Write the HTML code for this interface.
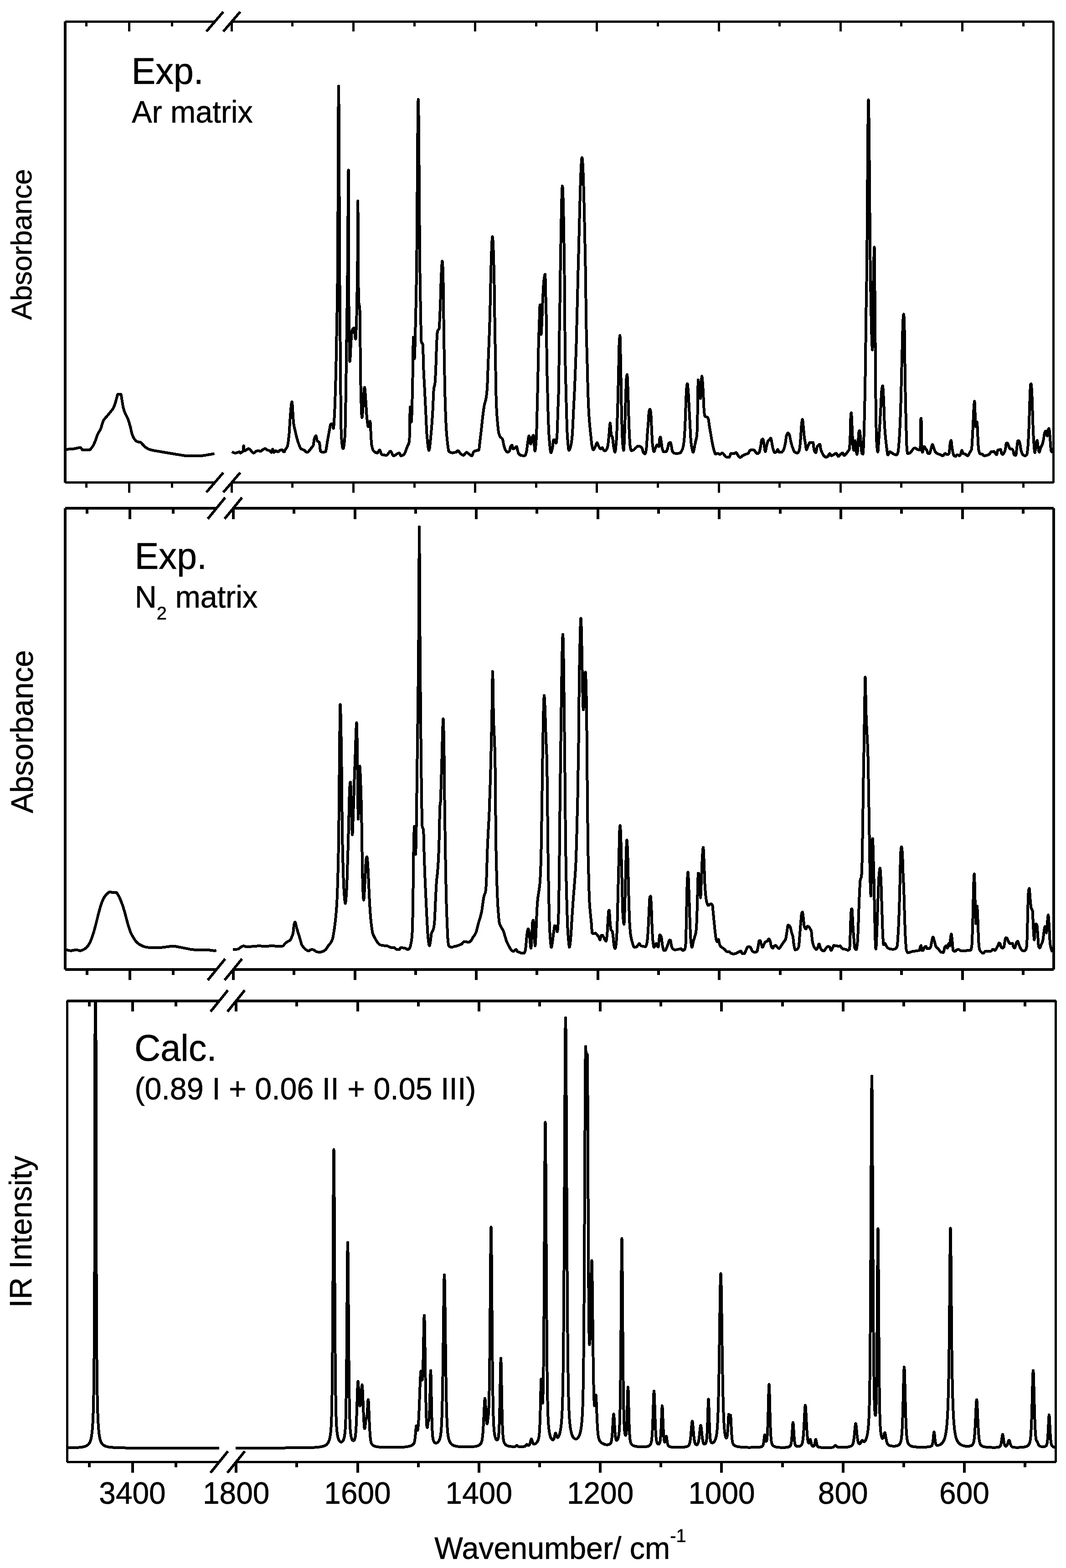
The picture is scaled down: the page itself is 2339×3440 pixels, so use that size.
<!DOCTYPE html>
<html lang="en"><head><meta charset="utf-8"><title>IR spectra</title>
<style>
html,body{margin:0;padding:0;background:#fff}
body{width:2339px;height:3440px;overflow:hidden}
svg{display:block}
text{font-family:"Liberation Sans",sans-serif;fill:#000;stroke:#000;stroke-width:0.6px}
.c{fill:none;stroke:#000;stroke-width:6;shape-rendering:crispEdges;stroke-linejoin:round;stroke-linecap:butt}
.b{stroke:#000;stroke-width:5.8;shape-rendering:crispEdges;stroke-linecap:butt}
</style></head>
<body>
<svg width="2339" height="3440" viewBox="0 0 2339 3440">
<rect x="0" y="0" width="2339" height="3440" fill="#fff"/>
<g id="panel1" shape-rendering="crispEdges">
<rect x="143" y="45" width="328.4" height="5"/>
<rect x="508.5" y="45" width="1803.5" height="5"/>
<rect x="143" y="1056" width="328.4" height="5"/>
<rect x="508.5" y="1056" width="1803.5" height="5"/>
<rect x="140" y="47" width="6" height="1012"/>
<rect x="2309" y="47" width="5" height="1012"/>
<rect x="187" y="49" width="5" height="9"/>
<rect x="187" y="1060" width="5" height="10"/>
<rect x="281" y="49" width="5" height="20"/>
<rect x="281" y="1060" width="5" height="21"/>
<rect x="375" y="49" width="5" height="9"/>
<rect x="375" y="1060" width="5" height="10"/>
<rect x="506" y="49" width="5" height="20"/>
<rect x="506" y="1060" width="5" height="21"/>
<rect x="639" y="49" width="5" height="9"/>
<rect x="639" y="1060" width="5" height="10"/>
<rect x="773" y="49" width="5" height="20"/>
<rect x="773" y="1060" width="5" height="21"/>
<rect x="907" y="49" width="5" height="9"/>
<rect x="907" y="1060" width="5" height="10"/>
<rect x="1040" y="49" width="5" height="20"/>
<rect x="1040" y="1060" width="5" height="21"/>
<rect x="1174" y="49" width="5" height="9"/>
<rect x="1174" y="1060" width="5" height="10"/>
<rect x="1307" y="49" width="5" height="20"/>
<rect x="1307" y="1060" width="5" height="21"/>
<rect x="1441" y="49" width="5" height="9"/>
<rect x="1441" y="1060" width="5" height="10"/>
<rect x="1575" y="49" width="5" height="20"/>
<rect x="1575" y="1060" width="5" height="21"/>
<rect x="1708" y="49" width="5" height="9"/>
<rect x="1708" y="1060" width="5" height="10"/>
<rect x="1842" y="49" width="5" height="20"/>
<rect x="1842" y="1060" width="5" height="21"/>
<rect x="1975" y="49" width="5" height="9"/>
<rect x="1975" y="1060" width="5" height="10"/>
<rect x="2109" y="49" width="5" height="20"/>
<rect x="2109" y="1060" width="5" height="21"/>
<rect x="2243" y="49" width="5" height="9"/>
<rect x="2243" y="1060" width="5" height="10"/>
</g>
<line class="b" x1="452.9" y1="69.1" x2="489.9" y2="25.9"/>
<line class="b" x1="490.0" y1="69.1" x2="527.0" y2="25.9"/>
<line class="b" x1="452.9" y1="1080.1" x2="489.9" y2="1036.9"/>
<line class="b" x1="490.0" y1="1080.1" x2="527.0" y2="1036.9"/>
<g id="panel2" shape-rendering="crispEdges">
<rect x="143" y="1112" width="332" height="6"/>
<rect x="511.9" y="1112" width="1800.1" height="6"/>
<rect x="143" y="2124" width="332" height="6"/>
<rect x="511.9" y="2124" width="1800.1" height="6"/>
<rect x="140" y="1115" width="6" height="1012"/>
<rect x="2309" y="1115" width="6" height="1012"/>
<rect x="188" y="1117" width="6" height="10"/>
<rect x="188" y="2129" width="6" height="10"/>
<rect x="282" y="1117" width="6" height="21.5"/>
<rect x="282" y="2129" width="6" height="21"/>
<rect x="377" y="1117" width="6" height="10"/>
<rect x="377" y="2129" width="6" height="10"/>
<rect x="509" y="1117" width="6" height="21.5"/>
<rect x="509" y="2129" width="6" height="21"/>
<rect x="642" y="1117" width="6" height="10"/>
<rect x="642" y="2129" width="6" height="10"/>
<rect x="776" y="1117" width="6" height="21.5"/>
<rect x="776" y="2129" width="6" height="21"/>
<rect x="909" y="1117" width="6" height="10"/>
<rect x="909" y="2129" width="6" height="10"/>
<rect x="1042" y="1117" width="6" height="21.5"/>
<rect x="1042" y="2129" width="6" height="21"/>
<rect x="1175" y="1117" width="6" height="10"/>
<rect x="1175" y="2129" width="6" height="10"/>
<rect x="1309" y="1117" width="6" height="21.5"/>
<rect x="1309" y="2129" width="6" height="21"/>
<rect x="1442" y="1117" width="6" height="10"/>
<rect x="1442" y="2129" width="6" height="10"/>
<rect x="1575" y="1117" width="6" height="21.5"/>
<rect x="1575" y="2129" width="6" height="21"/>
<rect x="1709" y="1117" width="6" height="10"/>
<rect x="1709" y="2129" width="6" height="10"/>
<rect x="1842" y="1117" width="6" height="21.5"/>
<rect x="1842" y="2129" width="6" height="21"/>
<rect x="1975" y="1117" width="6" height="10"/>
<rect x="1975" y="2129" width="6" height="10"/>
<rect x="2109" y="1117" width="6" height="21.5"/>
<rect x="2109" y="2129" width="6" height="21"/>
<rect x="2242" y="1117" width="6" height="10"/>
<rect x="2242" y="2129" width="6" height="10"/>
</g>
<line class="b" x1="455.9" y1="1138.4" x2="494.1" y2="1091.6"/>
<line class="b" x1="492.8" y1="1138.4" x2="531.0" y2="1091.6"/>
<line class="b" x1="455.9" y1="2150.4" x2="494.1" y2="2103.6"/>
<line class="b" x1="492.8" y1="2150.4" x2="531.0" y2="2103.6"/>
<g id="panel3" shape-rendering="crispEdges">
<rect x="147" y="2193" width="334" height="6"/>
<rect x="518" y="2193" width="1799" height="6"/>
<rect x="147" y="3205" width="334" height="5"/>
<rect x="518" y="3205" width="1799" height="5"/>
<rect x="145" y="2195" width="5" height="1013"/>
<rect x="2314" y="2195" width="5" height="1013"/>
<rect x="193" y="2198" width="6" height="10"/>
<rect x="193" y="3209" width="6" height="10"/>
<rect x="288" y="2198" width="6" height="21"/>
<rect x="288" y="3209" width="6" height="22"/>
<rect x="383" y="2198" width="6" height="10"/>
<rect x="383" y="3209" width="6" height="10"/>
<rect x="515" y="2198" width="6" height="21"/>
<rect x="515" y="3209" width="6" height="22"/>
<rect x="648" y="2198" width="6" height="10"/>
<rect x="648" y="3209" width="6" height="10"/>
<rect x="782" y="2198" width="6" height="21"/>
<rect x="782" y="3209" width="6" height="22"/>
<rect x="915" y="2198" width="6" height="10"/>
<rect x="915" y="3209" width="6" height="10"/>
<rect x="1048" y="2198" width="6" height="21"/>
<rect x="1048" y="3209" width="6" height="22"/>
<rect x="1181" y="2198" width="6" height="10"/>
<rect x="1181" y="3209" width="6" height="10"/>
<rect x="1314" y="2198" width="6" height="21"/>
<rect x="1314" y="3209" width="6" height="22"/>
<rect x="1447" y="2198" width="6" height="10"/>
<rect x="1447" y="3209" width="6" height="10"/>
<rect x="1580" y="2198" width="6" height="21"/>
<rect x="1580" y="3209" width="6" height="22"/>
<rect x="1714" y="2198" width="6" height="10"/>
<rect x="1714" y="3209" width="6" height="10"/>
<rect x="1847" y="2198" width="6" height="21"/>
<rect x="1847" y="3209" width="6" height="22"/>
<rect x="1980" y="2198" width="6" height="10"/>
<rect x="1980" y="3209" width="6" height="10"/>
<rect x="2113" y="2198" width="6" height="21"/>
<rect x="2113" y="3209" width="6" height="22"/>
<rect x="2246" y="2198" width="6" height="10"/>
<rect x="2246" y="3209" width="6" height="10"/>
</g>
<line class="b" x1="461.9" y1="2219.6" x2="500.1" y2="2172.4"/>
<line class="b" x1="498.9" y1="2219.6" x2="537.1" y2="2172.4"/>
<line class="b" x1="461.9" y1="3231.1" x2="500.1" y2="3183.9"/>
<line class="b" x1="498.9" y1="3231.1" x2="537.1" y2="3183.9"/>
<defs><clipPath id="cp1"><rect x="146" y="47" width="2163" height="1009"/></clipPath><clipPath id="cp2"><rect x="146" y="1115" width="2163" height="1009"/></clipPath><clipPath id="cp3"><rect x="150" y="2196" width="2164" height="1009"/></clipPath></defs>
<path class="c" clip-path="url(#cp1)" d="M145.6 985.7L160.1 985L174.6 982L176.6 981.9L177.6 982.7L180.1 986.5L181.1 987.3L194.1 987.3L196.6 987L198.6 985.5L201.6 981.8L204.1 978.2L206.1 974.3L208.6 968.6L210.6 963L213.1 955.7L214.6 952.1L216.6 948.5L219.6 943.7L221.1 940.5L222.6 936L225.1 927.5L226.1 924.5L227.1 922.3L229.1 919.4L235.6 912.1L243.1 902.9L246.6 898.7L248.6 895.3L250.6 890.8L252.6 885.4L254.1 880.2L256.1 872.9L257.1 868.7L257.6 866.9L258.1 865.5L258.7 864.8L264.6 864.8L265.1 864.8L265.6 865.8L266.1 867.9L266.6 870.8L267.6 877.5L269.6 889.7L270.1 892.5L270.6 894.7L272.1 900L273.6 904.2L275.6 909L279.6 916.4L281.1 919.9L282.6 924.3L285.6 935.1L287.1 941.2L289.1 949.8L290.1 953.3L291.6 957.1L293.6 961.2L295.6 964.2L298.1 967L300.1 968.4L304.1 969.8L308.6 970.4L310.1 971.6L313.1 975.2L318.1 980.4L323.6 984.2L327.6 986L336.2 988.2L377.6 995.2L406.1 999.8L418.1 999.7L432.6 999.6L442.6 999.9L451.6 998.6L470.6 995.2"/>
<path class="c" clip-path="url(#cp1)" d="M509 990.9L512 992.9L515 993.8L517.5 993.8L523 991.9L525 991.4L525.5 991.7L527 993.7L527.5 993.9L529 993.3L532.5 990.5L533.3 989.4L533.5 988.3L534 982.5L534.5 978L534.6 977.9L535 980.1L535.5 985.2L536 988.8L538 988.8L539.5 987.9L543 985.2L545 984.3L546.5 984.6L549.5 986.8L552.5 991.1L555.5 993.6L557 993.9L558.5 992.9L561 990.5L565 989.1L567.5 988.9L571.5 990.1L573 989.7L576.5 986.5L580.5 984.5L582.5 984.4L584.5 985.8L586.5 987.4L592 988.9L593 989.7L595 992.2L595.8 992.7L596 992.6L596.5 991.4L597.5 987.5L598 985.9L598.4 985.5L598.5 985.6L599 986.7L600 990.6L600.5 992.2L601 992.6L602 991.9L604 989.2L604.7 988.9L606 989.3L609 991.2L610 991.4L611.5 990.5L614 988L616.5 987.1L618.6 986.8L619 987L620 988.4L621.1 990.1L623 991.3L623.7 991.4L624 991.1L624.5 989.8L625.3 987.3L626.5 985.5L629 982.5L630 980.7L630.5 979.5L631 977.7L631.5 975.3L632 972.3L632.5 968.9L633 965L634 956.2L634.2 954.4L634.5 951L635 943.7L636 926.8L636.5 919.2L638 900.7L638.5 894.8L639 889.5L639.5 885.3L640 882.5L640.5 881.5L641 883.2L641.5 888.1L642 895.2L643 912L643.5 920L644 926.4L644.3 929.1L645 933.3L646 938.1L650 955.6L651.5 961.5L653.2 967.1L656.5 976.9L658 980.6L659.5 983.4L660.8 984.8L663.5 986.1L667.1 987.3L669 988.9L672 991.9L673.5 992.4L675 992L677 990.5L680 986.9L684 981.8L686 979.6L687.3 977.2L687.5 976.8L688 974.3L689 966.9L689.5 963.6L690 961.7L691.5 958L692.5 956.5L693.2 956.2L693.5 956.5L694 957.9L695.5 965L696 966.7L697 968L700 969.9L700.8 970.9L701 971.6L701.5 975.2L702.5 985.3L703 989L703.3 989.9L705.5 991.5L708 992.3L711 992.2L714 991.1L714.5 990.3L715 988.7L715.5 986.5L716 983.8L717 977.4L718.5 967.4L722 948.3L723 943.2L724.5 934.5L725 932.1L725.5 930.7L726 930.4L729.6 930.4L730 931.2L730.5 934.2L731 937.7L731.5 939.9L731.6 940L732 939L732.5 934.3L733 926.7L733.5 917.4L734.2 903.7L734.5 897.2L735 884.8L735.5 870.2L736 853.9L736.5 836L736.7 827.8L737 816.5L737.5 793.4L738 767.5L738.7 726.8L739 712.8L739.5 686.7L740 658.2L740.5 623.1L740.8 600L741 570.7L741.5 466.7L742 341.1L742.5 234.9L743 189L743 189L743.5 224.7L744 315.3L744.5 431.3L745 543.3L745.3 600.5L745.5 623.9L746 685.6L746.3 726.7L746.5 747.5L747 814.6L747.3 853L747.5 866.4L748 909.1L748.5 942L748.9 954.4L749.5 963.6L750 969.6L750.5 974.7L751 978.6L751.5 981.5L752 983.4L752.5 984.3L753 984.2L753.5 983.2L754 981.3L754.5 978.7L755 975.3L755.5 971.1L756 966.1L756.5 960.5L757 954L757.5 939.5L758 914.5L758.5 884L759 853L759.5 820.5L760 783.9L760.5 746.3L760.8 726.5L761 710.5L761.5 677L762 642.5L762.5 603.6L762.5 600.1L763 547.6L763.5 475.2L764 409.7L764.5 374.4L764.6 373L765 573.3L765.1 599.3L765.5 669.6L765.8 701L766 714.4L766.5 751.1L767 779.2L767.5 792.7L767.6 793.2L768 791.2L768.5 784.2L769 774.3L769.5 763.4L770 754L771 738.7L771.5 731.8L772 727.3L772.1 726.6L773.5 722.9L774.5 721L775.5 719.8L776.5 719.5L777 720.8L777.5 723.9L778 728.2L779 737.5L779.5 741.3L780 743.5L780.2 743.8L780.5 743L781 736.3L781.5 724.7L782 710.2L782.3 701.2L782.5 693.2L783 666.9L783.3 650.7L783.5 641.5L784 619.6L784.3 600.3L784.5 576L785 472.5L785.3 441L785.5 462L786 588.8L786.1 600.3L786.5 630.6L787 655.1L787.3 663.3L787.5 664.9L788 668.1L788.5 669.8L789 672.3L789.4 676L789.5 679.2L790 716.6L790.4 751.9L790.5 760.8L791 806.3L791.5 845.4L791.6 853.3L792 866.7L792.5 884.6L793 899.4L793.5 910.1L794 915.5L794.2 916L794.5 915.4L795 912.5L795.5 907.4L796 900.7L796.5 893L797.5 876.1L798 868L798.5 860.9L799 855.1L799.5 851.3L800 849.8L800.5 851.7L801 856.5L801.5 863.3L802 870.8L803 885.1L804 901.9L804.5 909.6L805 915.8L806 925L806.5 929.1L807 932.6L807.5 935.1L808 936.2L808.5 935.9L809 934.8L809.5 933.1L811 926.9L811.5 925.4L812.1 924.5L812.5 926.5L813 934.8L813.5 945.9L813.9 954.4L814.5 965L815 972.9L815.2 974.7L816 978.9L817 983.1L818 986.1L819 988.3L820.2 989.9L823.5 992.3L826.5 993.5L828 993.7L829 992.9L831.5 988.6L832.5 987.5L833 987.3L833.5 987.7L834 988.5L835 990.9L836.5 995.2L837 996.3L837.5 997.1L838.5 997.6L845 998.6L848.5 998.7L850 997.7L852 995.1L854.5 991.6L856 990.2L857 989.9L857.5 990.1L858.5 991.4L860 994.6L861.5 998L862.5 999.6L863.3 1000L865.5 999.5L869 997.3L873 994.5L875.5 993.7L876 993.7L876.5 994L877.5 996L878.5 998.4L879 999.3L879.8 1000L882.5 999.4L886.1 997.5L887 996.5L888.5 993.8L890 990.1L893.7 979.7L895 977.1L896 975.3L896.5 974.1L897 972.7L897.5 970.8L898.2 967.1L898.5 961.6L899 936.2L899.5 907.2L900 892.9L900.5 896.1L901 904.1L901.5 913.9L902 922.2L902.5 926.1L902.5 926.1L903 922.4L903.5 911.4L904 895.1L904.5 875.9L905.1 853.3L905.5 829.9L906 793.1L906.5 758.8L907 740.3L907.1 739.7L907.5 743.6L908 756L908.5 771.3L909 783.4L909.4 786.9L909.5 786.5L910 778.6L910.5 762.5L911 741.6L911.5 718.9L911.9 701.2L912.5 676.3L913 652.9L913.5 626.3L913.9 600.3L914 595.5L914.5 550.4L915 490.3L915.5 422.7L916 354.7L916.5 293.5L917 246.4L917.5 220.7L917.7 218L918 222.8L918.5 250.9L919 298.5L919.5 359L920.5 492.2L921 551.8L921.5 597.9L921.5 600.1L922 631.6L922.5 660.7L923 686.5L923.5 713.4L924 736.5L924.5 748.9L924.6 749.4L925 751L925.5 752.2L927 754.1L927.5 755.5L927.9 757L928 758.7L928.5 776.7L929 798.7L929.1 802.4L929.5 811.8L930 822.5L930.5 831.9L931.5 850.1L934.2 903.9L934.5 910.3L935.5 932.9L936 943.3L936.5 951.6L936.7 954.4L937.5 963.1L938 968.4L938.5 973.3L939 977.7L939.5 981.5L940 984.6L940.5 986.8L941 988L941.3 988.1L941.5 988L942 986.6L942.5 984L943 980.4L943.5 975.9L944 971L946 950.1L946.5 944.4L947 938.3L947.5 931.8L948 924.9L948.5 917.5L949.4 903.8L949.5 901.7L950 891.3L951 867.6L951.5 858.1L951.9 853.2L952.5 849.5L953.5 845.7L954 843.4L954.5 840L955 833.6L955.5 824.3L956 813.2L956.5 801.7L957 787.7L957.5 771.6L958 757.2L958.2 751.9L959 737.7L959.5 730.5L960 726.6L960.5 725.4L961.5 724.1L962.5 723.2L963 722.3L963.3 721.5L963.5 720.5L964 715.1L964.5 706.3L965 695.4L966 671.9L966.5 657.1L967.5 622.9L968 608.1L968.4 600.1L969 588.3L969.5 580.2L970 574.6L970.4 573L970.5 573.1L971 576.5L971.5 584.4L972 595.7L972.1 599.9L972.5 618.5L973 662.2L973.2 675.6L973.5 699L974 733.6L974.5 765.7L974.7 777L975 794.8L975.5 822.9L976 848.6L976.5 870.5L976.7 878.5L977 887.7L977.5 902.9L978 916.4L978.5 928L979 937.7L979.2 941.8L979.5 945.5L980 952.2L980.5 958.2L981 963.5L981.5 968.2L982.3 974.7L983.5 984L984 987.1L984.5 989.2L985 990.1L987.5 992.2L990 993.3L993 993.6L998.7 992.4L1000.5 992.3L1002 991.1L1004 989L1005.1 988.6L1006 989.1L1007.5 991.1L1009.5 994.3L1013.5 997.6L1015.5 998.6L1017 998.6L1018.5 997.6L1022.5 993.1L1024 992.4L1025.5 993L1029.5 996.5L1033.5 999.4L1035.5 1000L1036 999.6L1036.5 998.5L1038.5 992.5L1039.2 991.1L1042 989.4L1046 988.3L1050 987.6L1050.6 987.3L1051 986.5L1051.5 983.3L1052 978.7L1053 968.6L1055.5 947.9L1056.5 939.2L1058.5 920.1L1059 915.6L1060 907.5L1061 899.9L1062 893.1L1062.8 888.6L1063.5 885.5L1065.5 878.6L1066 876.4L1066.5 873.8L1067 870.7L1067.5 867.1L1068 862.8L1068.5 857.7L1068.9 853.2L1069 851.3L1069.5 841L1070 827.6L1070.5 813.2L1070.9 802.4L1072 775.4L1072.5 762.9L1073.5 736.5L1074 722.7L1074.5 707.6L1074.7 701.4L1075 690.4L1075.5 670.5L1076 648.8L1076.5 622L1077 600.1L1077.5 582.2L1078 566L1078.5 551.1L1079 538.2L1079.5 528.1L1080 521.4L1080.5 519L1081 521.1L1081.5 527.1L1082 536.6L1082.5 549L1083 563.7L1083.5 580.1L1084 600L1084.5 623L1085.5 696.2L1085.6 701.3L1086 726L1087 781.5L1087.3 802.4L1087.5 812.6L1088 847.7L1088.1 853.1L1088.5 868.2L1089 884L1089.5 896.3L1089.9 903.7L1090 905.8L1090.5 913.3L1091 919.5L1093 940.5L1093.5 945L1094 948.5L1094.5 950.6L1095.5 954L1096.5 956.5L1098 958.9L1100 960.6L1101.5 961.8L1102.5 963.3L1103 964.6L1103.5 966.7L1104.5 972L1105.1 974.7L1107 982.3L1108 985.5L1108.9 987.3L1111 990.1L1112.5 991.4L1114 991.9L1116 991.3L1117.7 989.9L1118 989.4L1118.5 987.6L1119.5 982.4L1120 980.4L1120.5 979.3L1122 977.2L1123 976.5L1123.5 976.6L1124 978L1125 982.7L1125.5 984.4L1126 984.8L1128 984.1L1130 982.9L1132.5 980.3L1133.7 979.7L1134 980.2L1134.5 982.4L1135 985.2L1135.5 987.5L1137 992.8L1137.5 994.1L1138.5 995.6L1141 998.1L1143 999.3L1146 999.5L1152 999.5L1152.5 999.1L1153 998.3L1154 995.6L1155 992.2L1155.5 989.6L1156 986.1L1157 978.1L1158 971.1L1159 963.7L1159.5 960.4L1160 957.9L1160.5 956.4L1160.8 956.2L1161 956.4L1161.5 957.9L1162 960.6L1163 967.5L1163.5 970.7L1164 973.1L1164.6 974.2L1165 973.5L1165.5 971.4L1166 968.4L1167 962L1167.6 959.5L1169 956.3L1169.5 955.5L1170.4 954.9L1170.5 955L1171 958L1171.5 964L1172.5 979.3L1173 985.6L1173.5 989.1L1173.7 989.4L1174 989L1174.5 986.9L1175 983.2L1175.5 978.2L1176 972.1L1176.7 962L1177 956.5L1177.5 941.6L1178 922.8L1178.5 903.5L1179 883.8L1179.5 862.5L1180 840L1180.2 828L1180.5 816.2L1181 789.3L1181.5 763.7L1181.8 752L1182 744.3L1182.5 729.1L1183 715.7L1183.5 701.4L1184 687L1184.5 672.4L1184.8 668.8L1185 669.8L1185.5 680.3L1186 698L1186.5 716.6L1187 730.3L1187.3 733.7L1187.5 733.2L1188 726.5L1188.6 713.9L1189 705.8L1189.5 693L1190 679L1190.5 665.4L1191 653.6L1191.5 644.1L1192 634.9L1192.5 626.6L1193 619.4L1193.5 614.1L1194 610.5L1194.5 607.2L1195 604.5L1195.5 602.7L1196 602L1196.5 610.7L1197 630.6L1197.5 651.4L1198 669.2L1198.5 689.2L1198.7 701L1199 718.5L1199.5 763.3L1200 802L1200.5 824.6L1201 842.8L1201.3 853.3L1201.5 862.4L1202 883.7L1202.5 902.5L1203 917.9L1203.5 932.1L1204 944.2L1204.5 953.5L1205.5 967.1L1206 973.4L1206.5 979.1L1207 984L1207.5 988.1L1208 991.1L1208.5 992.8L1209 993.2L1209.5 992.7L1210 991.5L1210.5 989.9L1211.5 985.6L1212.7 979.7L1213 977.5L1214 967.9L1214.5 964.9L1214.7 964.6L1218.2 964.6L1218.5 964.9L1219 967L1219.5 969.7L1220 971.8L1220.2 972.2L1220.5 971.8L1221 969.1L1221.5 964.4L1222 958.3L1222.3 954.4L1222.5 950.8L1223 937.9L1224 905.6L1224 903.8L1224.5 892.4L1225 880.4L1225.5 865.9L1225.8 853.3L1226 844.2L1226.5 803.4L1227 759.1L1227.1 751.8L1227.5 726.8L1228 698.5L1228.3 676.2L1228.5 666.3L1229 626.3L1229.4 599.8L1230.5 535L1231 506.9L1231.5 480.6L1232 457L1232.5 437L1233 421.6L1233.5 411.6L1234 408L1234.5 410.9L1235 419.4L1235.5 433.2L1236 451.7L1236.5 474.6L1237 501.4L1237.5 531.6L1238 564.8L1238.5 600.7L1239 668.1L1239.2 701.2L1239.5 725.8L1240 768.8L1240.5 801.7L1240.5 802.7L1241 824.3L1241.5 842.5L1241.8 853.1L1242.5 883L1243 902.2L1243.5 919.1L1244 935.2L1244.5 948.4L1244.8 954.4L1245.5 964.4L1246 971.1L1246.5 977L1247 981.9L1247.5 985.5L1248 987.7L1248.5 988.1L1249 987.8L1249.5 987.1L1250.5 984.8L1251.5 981.5L1253.2 974.7L1253.5 973.1L1254 970.1L1254.5 966.3L1255 961.9L1255.7 954.4L1256 950.5L1256.5 941.8L1257 931.2L1258 908.7L1258.5 898.6L1260 869.4L1260.5 859.1L1261 847.9L1261.5 836L1262 823.4L1263 797.1L1263.5 783.7L1264 769.7L1264.6 751.8L1265 735.8L1265.8 701.4L1267.1 650.6L1268 613.7L1268.3 600.2L1269 576.9L1269.5 557.8L1270.5 518.5L1271.5 479.2L1272 460L1272.5 441.6L1273 424.1L1273.5 407.8L1274 392.9L1274.5 379.6L1275 368.2L1275.5 358.9L1276 351.9L1276.5 347.6L1277 346L1277.5 347.4L1278 351.6L1278.5 358.4L1279 367.6L1279.5 379.2L1280 392.8L1280.5 408.4L1281 425.8L1281.5 444.8L1282 465.3L1282.5 487.1L1283 509.9L1283.5 533.8L1284 558.4L1284.5 583.6L1284.8 600L1285 611.2L1285.5 654.4L1286 696.1L1286.1 701.5L1286.5 722.3L1287 743.6L1287.5 762.1L1288 779.6L1288.5 797.9L1288.6 802.6L1289.5 839.4L1289.9 853.1L1290 856.8L1290.5 871.4L1291 884.4L1291.5 895.8L1292 905.4L1292.5 913.6L1293 920.6L1293.7 929.1L1294 932.8L1294.5 938.2L1295.5 947.9L1296.5 957.1L1297.5 966.8L1298 971.4L1298.5 975.4L1299 978.6L1300 982.8L1300.5 984.6L1301 985.9L1301.5 986.7L1302 986.8L1303 986.1L1304.5 983.5L1307 978.2L1308.5 973.9L1309 972.7L1309.5 971.8L1310.1 971.4L1310.5 971.5L1311 972.2L1312 974.7L1313.5 978.9L1316 983.3L1317 984.5L1318 984.8L1319.5 983.7L1321 982.4L1321.5 982.3L1322 982.5L1322.5 983.3L1324.5 987.7L1325 988.4L1327.8 988.9L1329 988.4L1330.5 986.7L1332 984.1L1332.5 982.6L1333 980.7L1333.5 978.4L1334.2 974.7L1334.5 972.5L1335 967.8L1336.5 951.2L1337.5 937.9L1338 932.2L1338.5 928.8L1338.7 928.3L1339 929L1339.5 933.4L1340 940.2L1340.5 947.3L1341 952.8L1341.3 954.4L1342 956.2L1343 957.7L1343.5 958.6L1343.8 959.5L1344 960.3L1344.5 963.6L1345 968.2L1345.5 973.1L1346 977.5L1346.5 980.6L1347.5 986.1L1348 988.5L1348.5 990.4L1349 991.6L1349.5 991.9L1350 990.5L1350.5 987.5L1351 983.3L1351.5 978.1L1352 972.2L1352.5 966L1353 957.3L1353.5 945.8L1354 932.2L1354.5 917.4L1355 902.2L1355.5 885.5L1356 866.7L1357 826.7L1357.5 803.1L1358 777.7L1358.5 757.7L1358.7 752L1359 747.7L1359.5 740.8L1360 736.6L1360.2 735.9L1360.5 737.9L1361 752.8L1361.5 776.1L1362 802.7L1362.5 827.6L1363 859.2L1363.5 889.2L1363.8 903.9L1364 911.6L1364.5 931L1365 948.1L1365.5 961.3L1365.8 967.1L1366.5 975.6L1367 980.9L1367.5 985.1L1368 987.6L1368.3 988.1L1368.5 987.9L1369 983.8L1369.5 975.5L1370 964.3L1371 939L1371.5 922.3L1372 902.5L1372.5 883.8L1373.5 852.8L1374 839.2L1374.5 829.8L1374.7 827.9L1375 825.7L1375.5 823L1376 822L1376.5 826.3L1377 835.8L1377.7 853.1L1378 860.4L1378.5 877.4L1379 895.5L1379.2 903.8L1380 927.5L1380.5 942.2L1381 954.4L1381.5 963.2L1382 971.3L1382.5 977.4L1382.8 979.7L1383.5 983.7L1384 986L1384.5 987.7L1385 988.7L1386 988.8L1389 987.8L1391 986.5L1395 982.2L1399.5 978.7L1401 978.5L1405.1 979.7L1407 981.1L1408.9 983.5L1409.5 985.3L1410.5 989.6L1411 991.5L1411.5 992.5L1413.5 994.9L1415 995.7L1415.5 995.6L1416 994.8L1416.5 993.4L1417 991.4L1417.5 989L1418.2 984.8L1418.5 982.6L1419 975.8L1420 958.4L1420.2 954.5L1421 945L1422 932.9L1422.3 929.1L1422.5 926L1423 917.7L1423.5 909.6L1424 904.2L1424.5 901.6L1425 899.5L1425.5 898.2L1426 898L1426.5 898.7L1427 900.1L1427.5 902.1L1427.8 903.8L1428 904.8L1428.5 911.7L1429 922.2L1429.5 933.8L1430 944L1431 965.2L1431.5 973.1L1431.7 974.7L1432.5 981.1L1433 984.4L1433.5 987L1434 989.1L1434.5 990.3L1435 990.7L1435.5 990.3L1436 989.4L1437 986.5L1438 983.5L1440.5 977.4L1441 976.6L1441.8 975.9L1442.5 976.3L1445 979.5L1445.6 979.7L1446 978L1446.5 973L1447 967L1447.5 962.5L1448 960.5L1448.5 959.1L1448.9 958.7L1449 958.8L1449.5 960.3L1450 963.1L1451 969.4L1452.5 981.3L1453 984.1L1454 987.4L1455 989.9L1455.5 990.7L1456.2 991.1L1461.5 991.1L1462 990.7L1463 988.9L1464.6 984.8L1465 983.4L1466 978.8L1466.5 976.4L1467 974.2L1467.5 972.7L1468 972L1470 971L1471 970.9L1471.5 971.6L1472 973.3L1473.5 980.1L1474 983.2L1474.5 986.6L1475 989.3L1475.5 990.4L1477 992.6L1478.5 994L1480.5 994.5L1487 994.9L1491.5 994L1493 993.3L1494.5 991.6L1496.5 987.8L1497.5 985.4L1498.5 982L1499.5 977.5L1500 974.7L1500.5 971.3L1501 966.8L1501.5 961.3L1502 954.4L1502.5 946.8L1503 936.2L1503.5 924.2L1503.8 916.4L1504 911.2L1504.5 895.3L1505 880.3L1505.5 868.3L1506 857.9L1506.3 853.2L1507 846.9L1507.5 843.3L1508 841.5L1508.1 841.5L1508.5 842.4L1509 845.8L1509.5 850.9L1510.1 858.3L1510.5 863.4L1511 872.6L1511.5 883L1512 892.8L1514 930.4L1514.5 940.7L1515 951.3L1515.5 960.8L1516 967.5L1516.5 972.3L1517 976.3L1517.5 979.7L1518 982.5L1519 987L1519.5 989L1520 990.8L1520.5 992L1521 992.4L1521.5 991.9L1522 990.3L1522.5 988L1524 979.7L1526 970.1L1526.6 967.1L1527 965.3L1528 961.5L1528.5 959.1L1529 955.5L1529.1 954.5L1529.5 948L1530 932.2L1530.4 916.4L1530.5 910.8L1531 874.9L1531.1 865.8L1531.5 846.2L1531.9 833.4L1532 833.5L1532.5 836.2L1533 841.8L1533.5 848.3L1534 854.1L1535.5 866.3L1536 869.8L1536.5 872.6L1537 874L1537.2 874.2L1537.5 871.9L1538 859.8L1538.5 845.5L1538.7 840.6L1539 836.4L1539.5 828.8L1540 825.3L1540.5 827L1541 831.4L1541.8 840.5L1542 843.4L1542.5 851.7L1543 861.8L1543.5 872.3L1544 882.6L1544.5 894.4L1545 903.1L1545.5 906.9L1546 909.9L1546.5 912.1L1547 913.5L1547.5 914L1552 915.2L1552.5 915.7L1553.5 917.6L1554.5 920.5L1555 923.1L1555.5 926.8L1556 930.8L1556.5 934.4L1558 943.3L1560 954.9L1561.5 964.1L1563.5 974.7L1564.5 979.5L1565.5 983.6L1568 992.4L1569 995L1569.5 995.8L1570.1 996.2L1572 995.6L1574 994.5L1575.5 994.6L1579 996.8L1580 996.9L1581.5 996.1L1584 993.9L1585 993.7L1586 994.3L1592 1001.5L1593.5 1002.5L1600 1003L1600.5 1002.7L1601 1001.7L1602.5 997.2L1603 995.9L1603.5 995.1L1606 995.1L1610.5 995.4L1612.5 994.3L1614.5 993L1615.5 993L1616.5 994.1L1618.5 998L1622 1002.6L1623.5 1003.7L1624.5 1003.7L1626 1002.8L1629.1 1000L1635 996.9L1638.5 995.8L1641.8 994.9L1642.5 994.1L1644.5 989.4L1645.1 988.6L1647 987.1L1648.5 986.8L1654.5 987.4L1655.5 988.2L1658 992.1L1660.5 994.7L1662 995.4L1663.5 994.9L1665 993.5L1666 992.1L1666.5 990.8L1667 989L1668 984.2L1669 979.1L1669.5 975.8L1670.5 968.3L1671 965.6L1671.5 964.5L1673 963.4L1674 963.3L1674.5 964.2L1675 966.3L1676.5 974.9L1677 978L1678 985.5L1678.5 988.6L1679 990.4L1679.2 990.7L1679.5 990.5L1680 989.1L1680.5 986.8L1681.5 981L1682 978.4L1684 971L1685 968.1L1685.6 967.1L1687 965.8L1688.6 964.6L1690.5 961.6L1691.1 961.2L1691.5 961.6L1692 963.2L1692.5 965.7L1693.7 972.1L1695.5 981.9L1696.2 984.8L1698 990L1699 992.1L1699.5 992.7L1700.5 992.9L1702.5 992.1L1704 990.9L1704.5 989.9L1705.5 987.2L1706 986.3L1706.5 986.1L1707 986.6L1708 988.6L1709 991L1709.5 991.9L1710.1 992.4L1715.2 991.9L1716.5 991.1L1718 989L1719.5 986.3L1720.5 983.6L1721.5 980L1723 973.7L1723.5 970.7L1725 959.7L1725.5 956.7L1726.1 954.4L1727.5 951.4L1728.5 950.1L1729.1 949.8L1730 950.4L1731 951.9L1732.2 954.4L1732.5 955.4L1733 957.3L1734 962.4L1735 967.6L1736 971.7L1738 978.6L1741 987.2L1742 989.6L1743 991.1L1746 993.1L1748.5 993.9L1750 993.8L1751.5 992.6L1753.2 989.9L1753.5 989L1754 986.9L1754.5 984L1755 980.5L1755.7 974.7L1756 971.6L1756.5 964.6L1757 956.6L1758 941.6L1758.5 934.4L1759 929.1L1759.5 925.4L1760 922.2L1760.5 920.3L1760.8 920L1761 920.3L1761.5 923.3L1762 928.2L1762.8 936.7L1763 938.8L1764 951.2L1764.6 957L1765 960.2L1765.5 963.3L1767.1 972.2L1767.5 974.8L1768.5 982.3L1769 985.3L1769.5 986.8L1770 986.7L1770.5 985.9L1771 984.6L1773 978.2L1775.5 972.8L1776.5 971.3L1777.2 970.9L1783.8 970.9L1784 971.1L1784.5 973.5L1785 977.6L1785.5 982.1L1786 985.9L1786.3 987.3L1787.5 990.1L1788.5 991.9L1789.5 993L1790.1 993.2L1790.5 992.7L1791 990.8L1791.5 988.1L1792.5 982.1L1793 980.1L1794 978.7L1798 975L1799 974.7L1799.5 976.3L1800.5 983.4L1800.8 984.8L1802 988.8L1803.5 992.5L1806 997.4L1807.8 1000L1810 1002.2L1811.5 1003L1814 1002.6L1817 1001L1818 999.3L1819.5 995.9L1820 995.2L1820.5 994.9L1821 995.2L1822 996.7L1823.5 999.4L1824.3 1000L1826 999.5L1831 996.3L1833.5 994.6L1834.5 994.4L1835 994.7L1836 996L1838 999.8L1839 1001.1L1840 1001.2L1841.5 999.9L1844 996.7L1847.5 994.1L1849 993.7L1849.5 994.2L1850.5 996.5L1851.5 998.9L1852.2 999.5L1853.5 998.9L1857.5 994.3L1860 990.8L1862.5 988.2L1863.5 986.2L1863.5 986.1L1864 983.2L1864.5 976.5L1865 967.2L1865.6 954.4L1866 938.4L1866.5 918.3L1866.6 916.5L1867 911.1L1867.5 906.6L1867.8 905.5L1868 905.9L1868.5 911.4L1869 921.6L1869.5 933.4L1870 944.2L1870.5 956.5L1871 969.2L1871.5 978.3L1871.7 979.8L1872 982.1L1872.5 984.9L1873 987L1873.5 988.1L1873.7 988.1L1874 987.2L1874.5 982.9L1875.5 971.1L1876 967.5L1876.2 967.1L1876.5 967.8L1877 971.8L1878 982.9L1878.5 986.6L1879.5 993.6L1880 996L1880.5 997L1881 995.5L1881.5 991.6L1882 986.1L1882.5 979.8L1883 972.3L1883.5 961.6L1884 952.4L1884.3 949.4L1885 946.4L1885.5 945L1885.8 944.8L1886 944.9L1886.5 946.6L1887 949.8L1887.6 954.4L1888 958.8L1889 975L1889.4 979.8L1890 985.9L1890.5 990.4L1891 993.7L1891.5 995.1L1892.5 996.1L1893.5 996.4L1894 992.1L1894.5 983L1895.2 967.1L1895.5 959.3L1896 942.9L1896.5 923.4L1897 902.6L1897.5 880.5L1898 855.7L1898.5 827.3L1899 791.5L1899.5 752.2L1900 713.7L1900.5 675.7L1901 647.1L1901.5 618.7L1901.8 600.2L1902 582.2L1902.5 529.1L1903 464.5L1903.5 395.6L1904 329.5L1904.5 273.3L1905 234.1L1905.5 219L1905.5 219L1906 228.9L1906.5 256.8L1907 298.5L1907.5 349.9L1908 406.9L1908.5 465.3L1909 521L1909.5 569.8L1909.9 599.8L1910 607.9L1910.5 640L1911 668.4L1911.1 676L1911.5 693.2L1912 716L1912.5 734.4L1912.7 739.3L1913 748L1913.5 760L1914 767.2L1914.2 767.9L1914.5 763.8L1915 743.7L1915.5 714.3L1915.7 701L1916 674.5L1916.5 616.7L1916.7 599.9L1917 585.9L1917.5 563.8L1918 548.1L1918.5 542L1919 573.1L1919.2 599.9L1919.5 636.3L1919.8 676.3L1920 701.9L1920.5 750L1920.5 752.3L1921 819.2L1921.3 853.6L1921.5 874.2L1922 913.3L1922.3 929.2L1922.5 938.1L1923 956.4L1923.5 969.6L1923.8 974.7L1924.5 982.7L1925 987.3L1925.5 990.5L1926 991.9L1926.1 991.9L1926.5 990.2L1927 984.4L1928 968.6L1929 954.7L1929.5 947.3L1930 939.6L1930.6 929.2L1931 922.9L1931.5 913.6L1932.7 891.1L1933 884.4L1933.5 873.5L1934 863.8L1934.4 858.2L1935 853.8L1935.5 850.5L1936 848L1936.5 846.7L1936.7 846.5L1937 847.3L1937.5 851.9L1938 859.5L1938.5 868.8L1939 878.5L1939.5 891.4L1940 907.7L1940.5 922.9L1940.8 929.1L1941 933.3L1941.5 941.2L1942 947.9L1942.5 954.4L1943 959.7L1943.5 965L1944 969.9L1946 986.6L1946.5 990.5L1947 993.8L1947.5 996.3L1948 997.9L1948.5 998.2L1949 997.7L1950 995.4L1951 992.7L1951.5 991.7L1952.2 991.1L1954 991.7L1959.5 995.3L1962 996.9L1966.5 997.9L1967.5 998L1968 997.7L1969 996.1L1970 993.6L1970.5 992L1971 989.1L1971.5 984.6L1972 979L1973 966L1973.5 958.4L1974 949.2L1974.5 939L1975 927.9L1975.5 915.4L1976 901.3L1976.5 885.7L1976.7 878.4L1977 868.3L1977.5 848L1978 827.2L1979.2 777.2L1979.5 766.8L1980 745.4L1980.5 726.5L1981 712.2L1981.5 700.1L1981.8 696.2L1982 694.3L1982.5 690.7L1983 689.1L1983.5 693.4L1984 706.2L1984.5 724L1984.6 726.7L1985 754.7L1985.5 796.9L1985.6 802.6L1986 830.2L1986.5 860.4L1986.8 878.7L1987 885.7L1987.5 906.5L1988.1 929.1L1989 963.4L1989.5 977.6L1989.6 979.7L1990 984.7L1990.5 990.3L1991 993.9L1991.4 994.9L1995.5 994.4L1997 993.4L2000.5 989.6L2003.5 984.8L2005.5 983.5L2007.8 982.8L2009.5 983.5L2012.5 985.9L2017 987.3L2018 987.3L2018.5 986.4L2019 983.9L2019.5 979.8L2020.5 919.1L2021 917.7L2021.5 922.8L2021.8 929.1L2022 941.2L2022.5 978.8L2022.5 979.7L2023 986.1L2023.5 990.6L2024 992.4L2024.5 991.6L2025 989.1L2026 982.5L2026.5 980.3L2026.8 979.7L2028.6 980.2L2029 980.7L2030.5 984.6L2031.5 985.7L2033.2 987.3L2033.5 987.9L2034.5 991L2035.5 994L2036 994.8L2039.5 995L2040 994.6L2040.5 993.4L2041 991.7L2042.8 984.8L2044 980.1L2044.5 978.1L2045 976.4L2045.5 975.4L2046 975.2L2046.5 975.7L2047 976.8L2050 985.6L2051 988.6L2052 990.9L2054 993.2L2056.5 995.1L2060 996.3L2063 997.3L2067.5 999.8L2069 999.9L2070 999.1L2072.5 995.6L2073.5 995L2075 995.4L2078 997.3L2079.5 997.4L2081 996.6L2082.5 994.9L2083 992.4L2083.5 986.6L2084 980L2084.5 975.1L2085.5 969.8L2086 967.8L2086.5 966.6L2086.8 966.3L2087 966.4L2087.5 968.7L2088 972.8L2088.5 977.6L2089 982.2L2089.5 985.5L2091 993.4L2091.5 995.6L2092 997.3L2092.7 998.7L2094.5 1000.5L2096 1001.2L2097 1001.1L2098.5 999.2L2099.5 997.9L2100.2 997.5L2102 998.2L2104.5 999.8L2105.5 1000L2106 999.6L2107 998L2108.5 994.6L2109 992.6L2109.5 990.2L2110 988.4L2110.5 987.8L2111 988.8L2112 992.6L2112.5 994.3L2113 995L2116.5 995.8L2118.5 996.5L2122 999.6L2123 1000L2124 999.5L2125 998.3L2128.5 991.8L2130.5 988.7L2131.5 986.2L2132 984.4L2132.5 979.6L2133 971.8L2134 953.2L2134.5 943.2L2135.5 920.8L2136.5 899L2137 890.8L2137.5 884.9L2138 880.8L2138.2 880.2L2138.5 881.8L2139 891.6L2139.5 905.1L2140 916.5L2140.5 924.9L2141 932.6L2141.5 936.2L2142 935.1L2142.5 932.2L2143 928.8L2143.5 926.3L2143.8 925.8L2144 926.7L2144.5 935.1L2145 947.4L2145.3 954.5L2145.5 957.7L2146 967.9L2146.5 977.5L2147 984.1L2147.5 987.2L2148 989.8L2148.5 991.9L2149 993.6L2149.5 994.8L2150.1 995.4L2155 996.3L2157 998L2159 999.8L2160.5 1000L2165.5 998.9L2169 997.6L2171.5 995.9L2174 991.8L2174.5 991.3L2179.5 991.1L2180.8 990.4L2181.5 990.8L2185 996.1L2186 997.2L2186.6 997.5L2187 997L2187.5 995.3L2188.5 990.6L2189 988.5L2189.5 987.4L2193 987.3L2194 986.7L2195 985.9L2195.5 985.8L2196 986.9L2196.5 989.4L2197 992.2L2197.5 994.4L2198 995.3L2199.5 996.8L2200.5 997L2201.5 996.1L2203 993.5L2204 991.5L2205 988.8L2206.1 984.8L2206.5 982.5L2207.5 974.5L2208 972.3L2210.5 972.1L2211 972.6L2212 974.8L2213.5 978.6L2215 983.1L2215.5 984.1L2216.2 984.8L2220.5 984.9L2221.5 985.8L2222.5 987.3L2223 988.6L2223.5 990.9L2224 993.6L2224.5 996L2225.1 997.5L2227.5 998.8L2229 998.9L2229.5 996.9L2230 993L2231 983.1L2232.5 971.2L2233 968.1L2233.5 967.1L2236 967.2L2236.5 968.1L2237.5 971.3L2238 973.2L2238.5 976.1L2239.5 983.1L2240 986.1L2240.5 988.2L2242 993.3L2243 995.8L2244 997.4L2246.5 999.2L2248.5 1000L2250 999.9L2251.5 999L2253 997.4L2253.5 995.8L2254 992.9L2254.5 989.1L2255 984.5L2255.5 979.4L2256 972.6L2256.5 963.7L2257 953.1L2257.5 941.6L2258 927.7L2258.8 903.7L2259 896.2L2259.5 880.2L2260 865.9L2260.5 854.5L2261 845.1L2261.3 843L2262 842.4L2262.5 842.2L2263 844.4L2263.5 850.8L2264 859.6L2264.3 865.9L2264.5 869.6L2265 884.4L2265.5 901L2266.5 932.3L2266.8 941.8L2267 945L2267.5 955.8L2268 965.3L2268.5 973L2269.5 985.5L2270 990.4L2270.5 993L2270.7 993.2L2271 992.5L2271.5 989.3L2272.5 979.7L2273 975.7L2274 970.9L2274.5 968.9L2275 967.3L2275.5 966.4L2275.7 966.3L2276 966.8L2276.5 969.7L2277.5 978.1L2279 987.6L2279.5 990.1L2280 991.7L2280.3 991.9L2280.5 991.8L2281 990.9L2281.5 989.2L2283 983.2L2284 980.8L2286.5 976.2L2287.5 973.5L2288.5 969.8L2289.6 964.6L2290 962.5L2291 955.5L2291.5 952.6L2292.5 948.9L2293 947.4L2293.5 946.2L2294.2 945.6L2295 946.1L2296 947.9L2296.5 949.8L2297.5 955.4L2298 956.5L2298.5 954.5L2299.5 945.7L2299.8 944.3L2300.5 941.9L2301 940.7L2301.5 940.2L2302 941.3L2302.5 944.5L2303 948.9L2303.6 954.5L2304 959.8L2305 975.6L2305.3 979.8L2306 986.4L2306.5 989.6L2307.5 991.1L2308.5 991.8L2309 991.9"/>
<path class="c" clip-path="url(#cp2)" d="M145.6 2083.7L151.1 2085.3L156.1 2085.8L160.6 2085L166.1 2083.7L169.1 2084L175.6 2085.7L178.1 2085.5L182.1 2083.8L187.1 2080.9L190.6 2077.9L193.1 2074.9L196.1 2070L198.1 2066.1L200.6 2060.1L203.6 2051.7L205.6 2045.3L209.6 2030.6L212.1 2020.7L215.6 2006.5L219.6 1991.6L221.6 1985L224.1 1978.2L226.6 1972.5L228.6 1968.7L231.6 1964.4L234.6 1961.1L238.6 1957.7L240.6 1956.7L242.6 1956.8L247.6 1958.3L251.1 1958L254.1 1957.6L255.6 1958.4L257.1 1960.2L261.6 1967.8L264.1 1973.4L267.6 1982.3L270.6 1991.1L273.6 2001L276.6 2012.4L279.2 2022.5L283.1 2035.7L285.1 2041.7L287.1 2046.5L290.1 2052.5L295.1 2060.9L297.6 2064.4L302.1 2069L306.1 2072.1L312.6 2075.4L318.6 2077.4L329.1 2079.2L341.6 2079.4L351.1 2079.1L378.1 2075.7L383.6 2075.9L418.1 2082.7L426.6 2083.7L442.6 2084.2L459.1 2084.3L470.1 2085.8L474.1 2085.3L474.8 2085.1"/>
<path class="c" clip-path="url(#cp2)" d="M510.9 2082.6L521.9 2082.5L523.9 2081.5L527.9 2078.3L532.4 2075.6L534.4 2075.3L538.4 2076.4L541.4 2077.2L553.4 2076.4L566.4 2075.3L584.9 2075.9L595.9 2075L601.9 2075.3L607.4 2076.3L617.4 2076.2L621.5 2075.1L622.4 2074.3L624.9 2070.5L627.4 2068.2L631.9 2065.3L635.4 2063.5L636.9 2062.2L637.9 2060.7L639.4 2057.5L641.9 2051.4L642.4 2049.8L643 2047.2L643.4 2044.9L643.9 2040.1L644.4 2034.7L644.9 2030.4L645.4 2028.1L645.9 2026L646.4 2024.4L646.9 2023.2L647.4 2022.9L647.9 2023.5L648.4 2024.9L648.9 2026.9L650.4 2033.7L654.9 2048.7L658.9 2061.7L660.9 2069.2L661.4 2070.9L662 2072.5L663.4 2075L666.9 2079.4L669.9 2082.4L674.9 2085.8L677.2 2086.5L678.4 2086L680.9 2084L684.4 2083.1L687.4 2083.6L689.4 2084.3L692.9 2087.4L696.9 2088.5L701.4 2089L705.4 2088.4L710.4 2086.5L713.9 2083.9L715.9 2081.9L718.4 2078L720.4 2074.9L724.9 2069.4L727.4 2065.2L728.9 2061.9L729.9 2059L730.4 2056.9L731.4 2051.7L732.4 2045.8L733.4 2039.2L734.7 2029.5L735.9 2019.7L736.4 2015.1L736.9 2010.2L737.4 2004.7L737.9 1998.8L738.4 1992.1L738.9 1984.5L739.5 1973.9L739.9 1965L740.4 1951.3L740.9 1935.7L741.4 1919L741.9 1900.9L742.4 1879.5L742.5 1872.6L742.9 1851.5L743.3 1822L743.4 1813.2L743.8 1771L744.4 1711.9L744.8 1670L744.9 1662.9L745.4 1614.3L745.9 1570.2L746.4 1546.4L746.5 1545.5L746.9 1548.8L747.4 1561.7L747.9 1582.5L748.4 1609L748.9 1639.4L749.4 1671.5L749.9 1719.8L750.4 1771.3L750.9 1813.7L751.4 1847.1L751.9 1870.2L752.4 1888.7L752.9 1905.7L753.4 1922.3L753.9 1937L754.4 1947.8L754.9 1955.7L755.4 1963L755.9 1969.6L756.4 1975.2L756.9 1979.3L757.4 1981.7L757.7 1982.2L757.9 1982L758.4 1979.9L758.9 1975.7L759.4 1969.7L759.9 1962.5L760.8 1948.5L760.9 1946.1L761.4 1933.9L761.9 1918.5L762.5 1897.9L762.9 1886.6L763.4 1870.3L763.9 1853L764 1847.2L764.4 1834.3L765.4 1793.6L765.9 1771.7L766.4 1751.8L766.6 1746L766.9 1737.9L767.4 1726.8L767.9 1720.6L768.4 1716.9L768.9 1715.6L769.4 1720.8L769.9 1732.4L770.4 1746.2L770.9 1765.3L771.4 1787.5L771.6 1796.7L772.4 1819.3L772.9 1829.7L773.2 1831.6L773.4 1830.2L773.9 1819.8L774.4 1804.9L774.7 1796.7L774.9 1791.2L775.4 1777.6L775.9 1763.1L776.5 1745.8L776.9 1731.6L777.4 1714L777.9 1697.8L778 1695.4L778.4 1684.4L779 1669.9L779.4 1659.2L779.9 1643.9L780.4 1627.9L780.9 1612.6L781.4 1599.6L781.9 1590.1L782.4 1585.7L782.5 1585.5L782.9 1591.2L783.4 1612L783.9 1642.2L784.3 1669.7L784.4 1676.7L784.9 1730.9L785.1 1745.7L785.4 1768.8L785.9 1794.7L786.1 1797.4L786.4 1792.1L786.9 1769.3L787.3 1746L787.4 1743.7L787.9 1715.4L788.4 1695.4L788.9 1684.6L789.4 1680.6L789.9 1684.7L790.4 1694.5L790.9 1707.3L791.4 1720.6L791.9 1734.3L792.4 1750.7L792.9 1771.2L793.4 1796.9L793.9 1829.1L794.4 1860.6L794.9 1893.5L795.4 1921L795.4 1923L795.9 1939.9L796.4 1954.7L796.7 1961.2L796.9 1964L797.4 1970.9L797.9 1974.5L798 1974.6L798.4 1972.8L798.9 1967.1L799.4 1959L800 1948.5L800.4 1941.2L800.9 1930L801.4 1918.4L802.4 1898L802.9 1889.2L803.3 1885.2L803.9 1882.5L804.4 1880.9L804.9 1880.1L805.1 1880.1L805.4 1880.8L805.9 1884L806.4 1889.2L807.1 1897.9L807.4 1902.5L807.9 1912.9L808.4 1924.9L808.9 1936.5L809.9 1958.6L810.4 1969.1L810.9 1978.5L811.4 1987.4L811.9 1995.8L812.4 2003.2L812.9 2009.6L813.4 2015.3L813.9 2020.6L814.4 2025.4L815.2 2032L815.9 2037.1L816.4 2040.5L816.9 2043.5L817.4 2045.9L817.9 2047.8L818.9 2050.7L820.9 2054.8L824.4 2061.4L827.9 2066.9L830.4 2070.1L832.4 2071.8L835.4 2073.4L839.9 2074.3L849.9 2075.2L854.9 2077.8L858.9 2078.8L864.9 2078.9L866.4 2079.9L868.9 2082.3L871.9 2083.1L875.4 2083.5L876.4 2082.9L878.9 2079.3L879.9 2078.9L888.9 2080.2L893.9 2083L895.4 2083.1L896.9 2082.2L898.9 2079.9L899.4 2078.9L899.9 2077.6L900.9 2073.9L901.9 2069.4L902.4 2066.8L902.9 2063.7L903.4 2059.8L903.9 2054.9L904.3 2049.8L904.4 2048.5L904.9 2036.5L905.4 2018.4L905.8 1999.2L905.9 1995.7L906.4 1959.6L906.8 1922.8L906.9 1919L907.4 1876.2L907.9 1847.1L908.4 1829.1L908.9 1817.1L909.4 1812.7L909.4 1812.8L909.9 1819.6L910.4 1834.9L910.9 1853L911.4 1868.1L911.9 1874.6L912.4 1866.9L912.9 1847.5L913.4 1821.8L913.9 1790L914.4 1749L914.9 1712.1L915.4 1674.2L915.9 1635L916.4 1596.8L916.9 1557.9L917.4 1516.4L917.9 1470.6L918.4 1418.5L918.8 1370L918.9 1356.9L919.4 1246.3L919.9 1159.4L920 1155.5L920.4 1190.8L920.9 1293.6L921.3 1370L921.4 1382L921.9 1445.9L922.4 1504.9L922.9 1559.4L923.4 1609.7L923.9 1655.9L924 1669.9L924.4 1698.2L924.9 1734.8L925.1 1745.7L925.4 1767.5L925.9 1798.2L926.3 1811.8L926.9 1814.9L927.4 1816.4L928.4 1818.4L928.9 1820.5L929.1 1821.9L929.4 1826.4L929.9 1843.4L930.4 1864L930.6 1872.4L931.4 1895.4L931.9 1909.6L932.4 1923.3L932.9 1934.9L933.4 1946.3L934.4 1967.6L935.9 1998.9L936.4 2008.9L936.9 2018.5L937.9 2037L938.4 2046L938.9 2053.5L939.2 2057.3L939.9 2063L940.4 2067L940.9 2070.4L941.4 2073.1L941.9 2074.7L942.4 2075.1L942.9 2073.9L943.4 2071.6L944.9 2061.9L945.4 2058L945.9 2053.5L946.4 2049.5L946.9 2047L947.4 2045.6L948.4 2043.8L949.9 2041.5L950.6 2039.6L951.4 2036.7L951.9 2034L952.4 2030.8L952.9 2026.9L953.2 2024.5L953.4 2021.9L953.9 2013.8L954.4 2003.2L955.4 1980.1L956.9 1949.7L957.4 1940.7L957.7 1935.8L957.9 1933.7L958.4 1928.3L959.4 1919.5L959.9 1914.7L960.4 1908.8L960.9 1902L961.4 1894.5L961.9 1885.8L962.4 1875.7L962.5 1872.6L962.9 1863.3L963.4 1847.2L963.9 1828.3L964 1821.9L964.4 1803.7L964.9 1776L965.1 1771.3L965.4 1767.5L966.4 1760.8L966.6 1758.6L966.9 1752.4L967.4 1736.4L967.9 1719.3L968.4 1702.8L968.9 1685.7L969.4 1669.3L969.9 1651.6L970.9 1612.7L971.4 1595.7L971.9 1583.2L972.4 1577.2L972.5 1577L972.9 1581.2L973.4 1597L973.9 1621.5L974.4 1651.4L974.7 1669.8L974.9 1687.3L975.4 1741.1L975.4 1745.7L975.9 1781.9L976.4 1817.5L976.5 1822.2L976.9 1849.8L977.4 1879.4L977.9 1907.1L978.4 1934.5L978.9 1959.3L979.2 1973.8L979.4 1979.1L979.9 1995.1L980.4 2008.9L981.9 2046.5L982.4 2056.9L982.8 2062.4L983.4 2067.9L983.9 2071.5L984.4 2074L984.9 2075.2L986.4 2076.7L987.9 2077.5L994.4 2077.5L998.4 2075.8L1001.9 2075.5L1011.9 2071.7L1013.4 2070.7L1016.4 2066.9L1017.7 2066.2L1023.9 2066.4L1027.4 2067.4L1028.9 2067.3L1031.4 2065.7L1033.4 2063.9L1034.9 2061.6L1038 2056.1L1041.4 2051.6L1042.9 2048.9L1044.4 2045.4L1045.9 2041.1L1046.9 2037.4L1048.9 2028.8L1050.4 2023.4L1053.2 2014.3L1055.4 2006.2L1056.4 2001.9L1057 1999.1L1057.4 1996.6L1057.9 1993.2L1059.4 1982.1L1060.9 1972.2L1061.4 1969.3L1062 1966.2L1062.4 1964.9L1063.4 1962.2L1064.4 1959.7L1064.9 1958L1065.4 1955.7L1065.9 1951.9L1066.4 1946.3L1066.9 1939.1L1067.1 1935.8L1067.4 1929.1L1067.9 1913.2L1068.4 1896.8L1068.9 1881.2L1069.4 1866L1069.6 1859.9L1069.9 1853.3L1070.4 1842.2L1071.4 1821.9L1071.9 1812.6L1072.4 1804L1072.9 1795.1L1073.4 1783.9L1073.9 1771L1074.7 1746.1L1075.4 1725.4L1076 1708L1076.4 1692.2L1077 1670.1L1077.4 1653L1077.9 1632.8L1078.4 1611.8L1078.9 1589.5L1079.3 1570L1079.4 1565.2L1079.9 1530.7L1080.4 1494.6L1080.9 1473.8L1081 1473L1081.4 1482.1L1081.9 1512.1L1082.4 1547.8L1082.8 1570L1082.9 1573.4L1083.4 1589.1L1083.9 1601.3L1084.9 1622.2L1085.4 1634.7L1085.9 1651L1086.3 1670L1086.4 1673.4L1086.9 1721.9L1087.3 1771.1L1087.9 1820.3L1088.4 1859.4L1088.6 1872.7L1088.9 1886.4L1089.4 1906.5L1089.9 1923.7L1090.4 1940.1L1090.9 1955.1L1091.4 1968.1L1091.7 1973.9L1091.9 1978.7L1092.4 1987.8L1092.9 1995.4L1093.4 2002L1093.9 2008.3L1094.4 2014.1L1094.9 2019.1L1095.4 2022.9L1095.9 2025.2L1096.9 2028.4L1098.4 2031.6L1101.4 2037L1103.9 2041.3L1104.9 2043.6L1106.4 2048.3L1108.9 2056.8L1110.4 2062L1111.4 2064.9L1113.4 2069.4L1117.9 2077.9L1119.9 2081.7L1121.5 2083.9L1124.4 2086.4L1126.4 2087.2L1127.4 2087L1131.9 2083.3L1132.4 2083.1L1132.9 2083.4L1133.9 2085.1L1134.9 2087.1L1135.4 2087.7L1140.9 2089.7L1143.9 2091L1149.4 2091.5L1149.9 2091.3L1150.9 2090L1151.9 2087.6L1152.7 2085.2L1152.9 2084.1L1153.4 2080.5L1154.4 2070L1154.9 2064.7L1155.4 2058.2L1155.9 2052.4L1156.2 2049.8L1156.9 2045.3L1157.4 2042.4L1157.9 2040L1158.4 2038.3L1159 2037.6L1159.4 2038.1L1159.9 2039.9L1160.4 2042.8L1162 2054.8L1162.4 2057.7L1162.9 2062.8L1163.4 2068.4L1163.9 2073.6L1164.4 2077.8L1164.9 2080L1165.1 2080.2L1165.4 2078.8L1165.9 2072.6L1166.4 2063.3L1166.9 2053.4L1167.1 2049.7L1167.4 2043.4L1167.9 2031.4L1168.3 2024.5L1168.9 2021.6L1169.4 2019.7L1169.9 2018.7L1170.1 2018.6L1170.4 2019.6L1170.9 2026L1171.9 2045.6L1172.4 2053.3L1172.9 2061.5L1173.4 2069.2L1173.9 2074.2L1174.2 2075.1L1174.4 2074.5L1174.9 2069.4L1175.4 2060.4L1176.5 2037L1176.9 2026.7L1177.4 2012.9L1177.9 2000.7L1178.4 1991.9L1178.9 1984.1L1179.4 1977.6L1179.9 1972.5L1180.4 1968.4L1181.4 1961.9L1181.9 1958.8L1183.4 1948.5L1183.9 1944.8L1184.4 1940.4L1184.9 1934.8L1185.4 1926.8L1185.9 1916L1186.4 1903.2L1186.6 1897.9L1186.9 1888.2L1187.4 1868.8L1187.8 1847.1L1187.9 1845L1188.4 1811.8L1188.6 1796.4L1188.9 1778L1189.4 1744.3L1189.9 1704.7L1190.4 1670L1191.4 1613.7L1191.9 1587.4L1192.4 1564.2L1192.9 1545.3L1193.4 1532.2L1193.9 1526.2L1194 1526L1194.4 1527.6L1194.9 1533.8L1195.4 1543.7L1195.9 1556.5L1196.4 1571.2L1197.4 1602.5L1197.9 1617.2L1198.3 1628L1198.4 1630.1L1199.4 1651.3L1199.9 1665.9L1200 1670L1200.4 1693.5L1201.3 1771.6L1201.4 1781.3L1201.9 1823L1202.4 1862.5L1202.5 1872.4L1202.9 1896.3L1203.4 1926.6L1203.8 1948.6L1204.4 1978.1L1204.9 2000.8L1205.4 2019.3L1205.6 2024.4L1205.9 2032.5L1206.4 2043.5L1206.9 2052.7L1207.4 2060L1207.9 2065.7L1208.4 2071.1L1208.9 2075.5L1209.4 2078.1L1209.6 2078.4L1209.9 2078.2L1210.4 2076.8L1210.9 2074.3L1211.4 2071.2L1212.9 2060.8L1213.4 2056.9L1214.4 2048.3L1214.9 2044.3L1216.4 2033.6L1216.9 2031.3L1217.2 2030.8L1218.4 2031.5L1219.4 2032.7L1219.9 2034.1L1220.4 2036.1L1221.4 2040.6L1221.9 2042.6L1222.4 2043.9L1222.9 2044.1L1223.4 2041.9L1223.9 2037L1224.4 2029.8L1224.9 2020.7L1225.3 2011.7L1225.4 2010L1225.9 1989.6L1226.4 1960.4L1226.6 1948.6L1226.9 1927.7L1227.4 1887.6L1227.9 1843.4L1228.4 1792.3L1228.6 1771.1L1228.9 1746.4L1229.4 1705.2L1229.9 1668.9L1230.4 1634L1230.9 1597.6L1231.4 1560.8L1231.9 1524.9L1232.4 1490.9L1232.9 1460.2L1233.4 1433.7L1233.9 1412.8L1234.4 1398.6L1234.9 1392.2L1235 1392L1235.4 1395.9L1235.9 1411.5L1236.4 1436.8L1236.9 1470L1237.4 1509L1237.9 1551.8L1238.4 1596.2L1238.9 1640.3L1239.2 1670L1239.4 1683.1L1239.9 1734L1240.4 1785.8L1240.5 1796.9L1240.9 1830.8L1241.4 1872.3L1241.8 1897.7L1241.9 1904.4L1242.4 1928.9L1242.9 1949.6L1243.5 1973.6L1243.9 1986.4L1244.4 2004.2L1244.9 2020.3L1245.4 2033.4L1245.6 2037.1L1245.9 2042.9L1246.4 2050.7L1246.9 2057.3L1247.4 2062.9L1248.4 2073L1248.9 2076.9L1249.4 2078.4L1249.9 2077.4L1250.4 2074.9L1250.9 2071.2L1251.9 2062.4L1252.4 2057L1252.9 2049.8L1253.4 2041.6L1253.9 2033.2L1254.4 2024.4L1256.9 1985.9L1257.7 1973.8L1258.4 1965.1L1259.9 1947L1260.4 1940.7L1261.9 1920.7L1262.4 1913.5L1262.9 1905.4L1263.3 1897.9L1263.4 1895.8L1263.9 1883.7L1264.4 1869.1L1264.9 1853L1265.1 1847.3L1265.4 1835.3L1266.4 1794.2L1266.9 1775.7L1267.4 1755.7L1267.6 1746.2L1267.9 1726.4L1268.3 1695.5L1268.4 1693.8L1268.9 1678.9L1269.1 1670.2L1269.4 1645.4L1269.9 1580.9L1270 1570L1270.4 1537.6L1270.9 1499.6L1271.4 1466.4L1271.9 1438.5L1272.3 1420L1272.9 1396.1L1273.4 1377.6L1273.9 1363.6L1274.4 1356.8L1274.5 1356.5L1274.9 1359.4L1275.4 1370.6L1275.9 1388.4L1276.4 1411.3L1276.9 1437.2L1277.4 1464.4L1277.9 1491.1L1278.4 1515.5L1278.9 1535.8L1279.4 1550.1L1279.9 1556.8L1280 1557L1280.4 1555.2L1280.9 1548.6L1281.4 1538.2L1281.9 1525.6L1282.4 1511.9L1282.9 1498.6L1283.4 1487.1L1283.9 1478.6L1284.4 1474.6L1284.5 1474.5L1284.9 1476.9L1285.4 1486.5L1285.9 1501.8L1286.4 1521.6L1286.8 1540L1286.9 1544.8L1287.4 1589.6L1287.9 1647.4L1288.1 1669.9L1288.9 1750.3L1289.1 1770.9L1289.4 1796.2L1289.9 1839.3L1290.4 1873.1L1290.9 1895.8L1291.4 1914.1L1291.7 1923.3L1292.4 1951L1292.9 1967.2L1293.2 1973.7L1293.4 1978.1L1293.9 1986.1L1294.4 1992.6L1294.9 1999.2L1295.4 2004.2L1295.9 2009.2L1296.9 2018.6L1297.5 2024.4L1297.9 2029.7L1298.4 2037L1298.9 2043.4L1299.4 2047L1300.9 2048.1L1302.9 2048.4L1306.3 2047.2L1307.4 2047.7L1310.9 2051.8L1312.9 2054L1313.4 2054.8L1313.9 2055.8L1315.4 2060.3L1315.9 2061.4L1316.5 2061.9L1316.9 2061.2L1317.4 2059.1L1318.4 2053.9L1318.9 2052.4L1320.4 2051.6L1321.4 2051.6L1322.4 2052.4L1324.4 2055.4L1326.9 2060.8L1328.9 2063.9L1329.9 2064.5L1330.4 2063.4L1330.9 2060.7L1331.4 2056.8L1332.2 2049.8L1332.4 2046.9L1332.9 2038.6L1333.4 2029.2L1333.9 2020.8L1334.4 2011.9L1334.9 2003.9L1335.4 1999.3L1335.9 1998L1336.4 1997.2L1336.7 1997.1L1336.9 1997.5L1337.4 2002.7L1338.4 2019.9L1338.7 2024.4L1339.4 2031.5L1339.9 2036.2L1340.4 2039.3L1340.9 2040.4L1341.9 2041.5L1342.9 2042.3L1343.5 2043.4L1343.9 2044.6L1344.4 2047.6L1344.9 2051.6L1345.6 2057.3L1345.9 2060.4L1346.4 2066.4L1346.9 2071.9L1347.4 2075.3L1348.4 2078.7L1348.9 2079.9L1349.4 2080.7L1349.9 2080.9L1350.4 2080.1L1350.9 2077.8L1351.4 2074.4L1351.9 2070.1L1352.7 2062.4L1352.9 2059.5L1353.4 2050.7L1353.9 2039.1L1354.4 2024.4L1354.9 2008.2L1355.4 1986.7L1355.7 1973.6L1358.2 1872.4L1358.4 1865.6L1358.9 1841.8L1359.4 1823.8L1359.5 1822L1359.9 1816.7L1360.4 1812.1L1360.8 1811L1360.9 1811.3L1361.4 1817.5L1361.9 1829.2L1362.5 1847.2L1362.9 1859.3L1363.8 1897.9L1365.1 1948.3L1365.4 1962.9L1365.9 1985.7L1366.3 1999.1L1366.9 2008.5L1367.4 2015.6L1367.9 2021.4L1368.4 2025.4L1368.9 2027.5L1369.1 2027.8L1369.4 2026.5L1369.9 2018.6L1370.4 2005.5L1371.4 1973.9L1371.9 1955.6L1372.4 1934.3L1372.9 1913.4L1373.4 1891.5L1373.9 1873.5L1374.4 1860L1374.9 1848.6L1375.4 1843.2L1375.4 1843.1L1375.9 1845.8L1376.4 1853.7L1376.9 1864.7L1377.2 1872.6L1377.4 1877.4L1377.9 1897.2L1378.4 1919.4L1379.4 1960.7L1379.8 1973.9L1380.4 1995.1L1380.9 2010.1L1381.4 2022L1381.5 2024.4L1381.9 2030.6L1382.4 2037.9L1382.9 2043.9L1383.4 2048.6L1383.9 2052.1L1384.4 2055.1L1384.9 2057.8L1385.9 2062.2L1388.9 2072.8L1389.9 2075.7L1390.4 2076.8L1391.1 2077.6L1394.4 2078.4L1395.4 2078.3L1396.9 2077.1L1400.4 2073.2L1401.9 2070.4L1402.5 2070L1403.4 2070.6L1405.4 2074L1406.3 2075.1L1410.4 2076.1L1416.5 2077.1L1416.9 2076.9L1417.4 2076.1L1417.9 2074.9L1418.4 2073.3L1419.4 2069.2L1419.9 2066.7L1420.4 2062.8L1420.9 2057.2L1421.4 2050.6L1422.3 2037.1L1422.4 2035.2L1422.9 2025.2L1423.4 2013.5L1423.9 2002.3L1424.4 1992.1L1424.9 1981.3L1425.4 1972.5L1425.8 1968.7L1426.4 1967.3L1426.9 1966.4L1427.4 1966.2L1427.9 1968.8L1428.4 1974.8L1428.9 1982.7L1429.1 1986.4L1429.4 1992.8L1429.9 2009.4L1430.4 2024.7L1430.9 2036.2L1431.4 2046.9L1431.9 2055.8L1432.4 2062.5L1432.9 2067L1433.4 2071.3L1433.9 2074.9L1434.4 2077.4L1434.9 2078.4L1435.4 2078.1L1435.9 2077.3L1437.4 2073.7L1438.9 2071L1439.4 2070.4L1440 2070L1440.4 2070.5L1441.4 2074.1L1441.9 2075.2L1443.4 2077.2L1444.3 2077.6L1444.4 2077.6L1444.9 2074.8L1445.9 2064.1L1446.4 2059.6L1446.9 2054.7L1447.4 2051.4L1447.6 2051L1448.9 2051.7L1449.9 2053L1450.4 2054.1L1451.4 2057.3L1451.9 2060.3L1452.4 2064.6L1452.9 2069.4L1453.4 2073.5L1453.9 2076.1L1454.9 2080.4L1455.4 2082.2L1455.9 2083.7L1456.4 2084.8L1457 2085.2L1460 2084.7L1460.4 2084.5L1460.9 2083.7L1461.9 2081.3L1463.4 2077.4L1466.3 2070L1466.9 2068.1L1467.9 2064.3L1468.4 2062.9L1468.9 2062.4L1470.9 2062.9L1471.4 2064L1471.9 2066.5L1472.9 2072.6L1473.4 2075.1L1474.9 2079.5L1475.4 2080.6L1476.4 2081.8L1478.9 2083.4L1481 2083.9L1485.9 2083.2L1493.9 2081.4L1494.9 2081.7L1497.4 2084.8L1498.4 2085.2L1500.4 2084.6L1502.4 2082.8L1502.9 2081.9L1503.4 2079.8L1503.9 2076.4L1504.4 2071.8L1504.6 2070L1504.9 2062.9L1505.4 2043.6L1505.9 2021.5L1506.4 1995.9L1506.8 1973.6L1507.4 1950L1507.8 1935.8L1508.4 1925.7L1508.9 1918.3L1509.4 1914L1509.6 1913.5L1509.9 1914.9L1510.4 1923L1510.9 1935.4L1511.4 1948.4L1511.9 1962.3L1512.7 1986.5L1513.4 2009.3L1513.9 2024.3L1514.4 2036.4L1514.9 2048.6L1515.4 2058.4L1515.7 2062.4L1516.4 2069L1516.9 2073.1L1517.4 2076.2L1517.9 2078L1518.2 2078.4L1518.4 2078.3L1518.9 2077.4L1519.4 2075.5L1520.4 2070.4L1520.9 2067.7L1521.5 2064.9L1525.9 2050.4L1526.4 2048.4L1527.1 2044.7L1527.4 2042.3L1527.9 2036.3L1528.4 2028.4L1528.6 2024.4L1528.9 2018.1L1529.4 2002.9L1529.9 1985.9L1530.9 1948.3L1531.4 1927.7L1531.9 1915.6L1532.9 1916L1533.4 1916.5L1533.9 1919.8L1534.4 1927.1L1534.9 1935.9L1535.4 1944L1535.9 1955L1536.4 1964.6L1536.9 1969.4L1537 1969.5L1537.4 1966.7L1537.9 1957.8L1538.4 1945.3L1538.9 1931.8L1539.4 1919.6L1540.4 1892.7L1540.8 1885.2L1541.4 1875L1541.9 1867.7L1542.4 1862.1L1542.9 1859.2L1543 1859.1L1543.4 1861L1543.9 1869L1544.4 1880.7L1544.9 1893.6L1545.1 1897.8L1545.4 1907.2L1545.9 1924L1546.3 1935.8L1546.9 1945.8L1547.4 1953.1L1547.9 1959L1548.4 1963.8L1548.9 1968.2L1549.4 1972.1L1549.9 1975.3L1550.4 1977.9L1551.4 1981.5L1552.4 1984.4L1552.9 1985.5L1553.4 1986.2L1553.9 1986.5L1554.9 1986.1L1557.5 1983.9L1560.2 1983.1L1561.4 1983.6L1562.4 1984.8L1563.4 1986.8L1563.9 1990.4L1564.4 1996.2L1564.9 2002.3L1567.4 2027.5L1568.4 2038L1569.1 2044.7L1570.4 2055.2L1570.9 2058.7L1571.4 2061.4L1572.4 2064.6L1572.9 2065.7L1573.4 2066.2L1573.9 2065.9L1574.9 2063.8L1575.9 2061.6L1576.5 2061.1L1576.9 2062L1577.4 2064.3L1577.9 2067.2L1578.5 2070L1579.9 2074.2L1580.4 2075.4L1581 2076.3L1582.9 2077.8L1586.9 2080.3L1590.4 2083.2L1593.4 2086.9L1594.4 2087.6L1600.4 2087.8L1601.4 2088.8L1603.4 2091.3L1607.4 2092.6L1610.4 2092.8L1615.4 2091.5L1621.4 2088.3L1624.4 2086.6L1625.4 2086.5L1625.9 2086.8L1626.9 2088.6L1627.9 2090.9L1628.4 2091.7L1629.1 2092.3L1632.9 2092.3L1633.4 2092.1L1634.4 2090.6L1638.4 2081.2L1639.4 2079L1639.9 2078.2L1640.9 2077.4L1643.5 2076.8L1644.9 2077.2L1646.9 2078.9L1647.9 2080.6L1649.9 2085.4L1650.6 2086.5L1653.4 2088.6L1655.4 2089.3L1658.4 2088.8L1660.9 2087.6L1661.4 2086.6L1661.9 2084.8L1662.9 2079.8L1663.9 2074.6L1664.4 2071.3L1664.9 2067.7L1665.4 2064.7L1665.9 2063.7L1667.6 2063.4L1667.9 2063.5L1668.4 2064.4L1669.4 2067.6L1670.4 2070.8L1671.9 2076.5L1672.4 2077.8L1672.9 2078.4L1673.4 2078.1L1673.9 2077.3L1676 2072.5L1678.4 2067.8L1679.4 2066.5L1681.4 2065.6L1683.5 2064.9L1684.4 2064L1686.4 2060.5L1686.9 2060L1687.4 2059.8L1687.9 2060.2L1688.4 2061L1689.9 2065L1690.4 2066.9L1691.4 2072.3L1691.9 2074.7L1692.4 2076.3L1693.9 2078.8L1694.9 2079.8L1695.9 2080.1L1696.4 2079.5L1697.9 2076.2L1698.4 2075.4L1700.4 2074.5L1701.9 2074.3L1702.9 2074.9L1705.4 2077.9L1707.9 2080.3L1709.4 2080.9L1710.4 2080.4L1711.9 2078.4L1714.4 2074.4L1719.4 2066.9L1722.4 2063.3L1723.5 2061.1L1723.9 2060.1L1724.4 2058L1724.9 2055.2L1726.9 2042.7L1727.9 2035L1728.4 2031.7L1728.9 2029.7L1729.4 2029.5L1731.7 2030.5L1732.4 2031.2L1733.4 2032.9L1734.4 2035.1L1734.9 2036.8L1736.7 2044.7L1737.9 2048.4L1738.9 2051.4L1739.8 2054.8L1739.9 2055.6L1740.4 2059.2L1741.4 2068.5L1741.9 2072.7L1742.4 2075.6L1743.4 2080.4L1743.9 2082.3L1744.4 2083.6L1744.9 2083.9L1747.4 2083.4L1749.4 2082.4L1750.9 2080.7L1751.9 2078.9L1752.4 2077.6L1752.9 2075L1753.4 2070L1753.9 2063.6L1754.4 2056.8L1754.9 2049.7L1755.4 2044.2L1756.4 2031.3L1757.9 2013.3L1758.4 2008L1758.9 2004.5L1759.4 2003L1759.9 2001.8L1760.4 2001L1760.9 2000.9L1761.4 2002.9L1761.9 2006.5L1762.5 2011.8L1762.9 2015.1L1763.9 2027.1L1764.4 2031.3L1764.6 2032L1765.9 2035.3L1766.9 2036.9L1767.9 2037.8L1768.4 2037.9L1768.9 2037.5L1769.4 2036.5L1770.9 2032.8L1771.4 2032.1L1772.9 2032.2L1774.9 2033.1L1775.9 2034.6L1777.4 2037.4L1778.9 2039.6L1779.9 2041.8L1780 2042.2L1780.4 2044.2L1780.9 2048.7L1781.9 2059.9L1782.4 2064.1L1782.9 2066.7L1783.9 2070.9L1784.9 2074.3L1785.9 2076.8L1788.4 2080.8L1789.9 2082.5L1791.4 2083.2L1791.9 2083L1792.9 2081.5L1794.9 2077.1L1796.4 2072.3L1796.9 2071.2L1797.4 2071L1797.9 2071.9L1798.4 2073.5L1799.4 2077.5L1799.9 2079.2L1800.9 2081.3L1802.4 2083.6L1803.9 2085.1L1806.9 2086.4L1807.9 2086.5L1808.9 2085.8L1810.4 2083.4L1811.9 2080.8L1814.9 2077.3L1816.4 2076.4L1818.4 2076.6L1820.5 2077.6L1820.9 2078.1L1821.4 2079.4L1822.4 2082.9L1822.9 2084.4L1823.5 2085.2L1824.4 2084.6L1825.4 2083L1827.4 2078.9L1828.9 2075L1829.4 2074.1L1829.9 2073.8L1831.9 2075L1836.4 2075.2L1839.4 2076.3L1841.4 2075.7L1843.4 2075.1L1843.9 2075.3L1844.9 2076.7L1846.4 2079.3L1847.4 2080.4L1849.9 2081.9L1853.4 2082.4L1856.4 2082.8L1859.9 2084.6L1861.4 2084.6L1862.9 2083.9L1864 2082.7L1864.4 2079.7L1864.9 2068.6L1865.4 2054.5L1865.6 2049.7L1865.9 2040.3L1866.4 2023.6L1866.8 2011.7L1867.4 2001.2L1867.9 1994.8L1868.1 1994.1L1869.4 1994L1869.9 1998.7L1870.4 2008.7L1870.9 2019.8L1871.1 2024.4L1871.9 2036.5L1872.4 2044.2L1872.9 2051.3L1874.4 2070.2L1874.9 2075.4L1875.4 2079L1875.7 2080.1L1876.9 2082.2L1877.9 2083.2L1878.9 2083.4L1879.4 2082.3L1879.9 2080.1L1880.4 2076.9L1880.9 2073.1L1881.4 2068.8L1881.9 2061.7L1882.4 2051.8L1883 2037L1883.4 2027.6L1883.9 2011.6L1884.3 1999.2L1884.9 1983.3L1885.4 1970.7L1885.9 1959.8L1886.4 1949.1L1886.9 1939.3L1887.4 1932.3L1887.6 1930.8L1887.9 1929.4L1888.4 1928L1889.4 1926L1889.9 1924.3L1890.1 1923.1L1890.4 1920.7L1890.9 1911.3L1891.4 1897.9L1891.9 1876.6L1892.4 1846.9L1892.9 1815.5L1893.2 1796.9L1893.9 1746.2L1894.4 1713.8L1894.7 1695.5L1894.9 1684.7L1895.2 1670L1895.4 1658.8L1895.9 1628.2L1896.4 1596.3L1896.9 1566.1L1897 1560L1897.4 1535.9L1897.9 1504.4L1898.4 1486.2L1898.5 1485.5L1898.9 1493.2L1899.4 1518.2L1899.9 1546.8L1900.2 1560L1900.4 1565.9L1900.9 1579.5L1901.4 1590.9L1901.9 1600.9L1902.9 1619.4L1903.4 1629.6L1903.9 1641.4L1904.4 1655.6L1904.8 1670L1904.9 1673.2L1905.4 1700.9L1905.9 1734.3L1906.1 1746.2L1907.4 1824.8L1907.9 1856.4L1908.4 1886.6L1908.6 1898L1908.9 1911.3L1909.4 1933.1L1909.9 1948.4L1910.4 1960.3L1910.9 1965.7L1911.4 1946.7L1911.9 1911.7L1912.2 1897.9L1912.4 1889L1912.9 1873L1913.4 1859.8L1913.9 1849.6L1914.4 1841.3L1914.7 1839.6L1914.9 1840.6L1915.4 1850.5L1915.9 1867.1L1916.4 1886.3L1916.9 1904.2L1917.4 1923.5L1918 1948.3L1918.4 1968.7L1918.9 1994.9L1919.2 2011.7L1919.9 2041.3L1920.4 2059.5L1920.5 2062.5L1920.9 2070.9L1921.4 2079.7L1921.8 2082.2L1921.9 2082L1922.4 2077.7L1922.9 2069.2L1923.9 2047.8L1924.4 2034.9L1924.9 2019.8L1925.4 2004.4L1925.9 1989.7L1926.4 1974.6L1926.9 1960.1L1927.4 1947.3L1927.9 1935.5L1928.4 1925L1928.9 1917.8L1929.4 1912.9L1929.9 1908.7L1930.4 1905.7L1930.9 1904.6L1931.4 1906.9L1931.9 1912.6L1932.4 1920.9L1933.2 1935.7L1933.4 1941L1933.9 1956.2L1934.4 1973.8L1935.7 2011.9L1935.9 2017.9L1936.4 2034.6L1936.9 2048.3L1937.4 2057.6L1937.9 2065.8L1938.4 2071.3L1938.7 2072.5L1939.9 2071.8L1941.4 2070.2L1942 2070L1942.4 2070.2L1942.9 2071.1L1944.4 2074.8L1946.9 2078.7L1948.4 2080.1L1951.9 2081.8L1957.9 2082.6L1961.4 2082.5L1964.9 2081.4L1966.4 2080L1967.4 2078.3L1968.4 2075.7L1968.6 2075.1L1968.9 2073.6L1969.4 2068.7L1969.9 2061.6L1970.6 2049.8L1970.9 2045.4L1971.4 2035.6L1971.9 2024.4L1972.4 2011.6L1972.9 1998.6L1973.4 1983.2L1973.7 1973.8L1973.9 1965.9L1974.4 1945.8L1974.9 1923L1975.4 1902.4L1975.9 1880.5L1976.2 1872.6L1976.4 1869.9L1976.9 1863.9L1977.4 1859.7L1977.9 1857.9L1978 1857.8L1978.4 1858.6L1978.9 1861.3L1979.4 1865.7L1980 1872.5L1980.4 1881.3L1980.9 1898.7L1981.3 1910.6L1981.4 1913.5L1981.9 1924.2L1982.4 1933.9L1982.9 1944.8L1983 1948.5L1983.4 1958.9L1984.4 1993.8L1985.4 2025.4L1985.9 2039.7L1986.3 2049.8L1986.9 2060.5L1987.4 2069.4L1987.9 2077L1988.4 2082.5L1988.9 2085.3L1989.9 2087.5L1990.9 2089.1L1991.9 2090L1993.4 2090.2L1996.9 2089L2000.4 2087.7L2010.9 2086.1L2015.9 2085.4L2016.9 2085.1L2017.4 2084L2018.9 2078.6L2020.4 2074.9L2021 2074.3L2021.4 2076L2021.9 2081L2022.4 2084.9L2022.5 2085.2L2025.1 2085.2L2025.4 2085L2025.9 2084.2L2027.4 2080.2L2028.1 2078.9L2030.4 2076.8L2031.9 2076.3L2032.4 2076.8L2033.9 2080.8L2034.4 2081.4L2038.9 2081.3L2040.4 2080L2042 2077.6L2042.4 2076.6L2042.9 2074.3L2043.9 2068.4L2044.6 2064.9L2045.9 2058.7L2046.4 2056.9L2046.9 2055.9L2047.4 2055.9L2047.9 2056.7L2048.4 2058L2050.9 2066.8L2052.4 2073.3L2052.9 2075.1L2053.4 2076.3L2054.9 2078.3L2058.5 2081.4L2060.9 2084.7L2062.9 2087.5L2064.4 2088.8L2068.9 2089.7L2069.9 2089.7L2070.4 2089L2070.9 2087.3L2072.4 2079.9L2072.9 2078.1L2073.9 2076.7L2075.4 2075.3L2076.4 2075.1L2076.9 2076L2077.9 2078.8L2078.4 2079.9L2078.9 2080L2079.4 2078.9L2079.9 2076.8L2080.9 2072.1L2081.4 2070.4L2081.9 2070L2082.4 2071.1L2083.4 2074.5L2083.8 2075.1L2083.9 2075L2084.4 2072.1L2085.4 2061.4L2086.4 2053.3L2086.9 2050.1L2087.4 2049L2087.9 2050.9L2088.4 2055.1L2089.4 2065.1L2089.9 2070.7L2090.4 2077.1L2090.9 2082.6L2091.4 2085.2L2092.9 2086.5L2094.9 2087.2L2095.9 2087L2098.9 2084L2101.9 2082.8L2103.4 2082.8L2105.4 2084.1L2107.4 2085.5L2112.9 2086.4L2116.9 2086.1L2122.9 2085.1L2129.4 2084.7L2129.9 2084.3L2130.4 2083.5L2130.9 2082.1L2131.4 2080.3L2131.9 2078L2132.4 2075L2132.9 2067.8L2133.4 2054.1L2133.9 2037.2L2134.4 2020.1L2135.4 1978L2135.9 1955.2L2136.4 1937.4L2136.9 1926.8L2137.4 1919.1L2137.7 1917.3L2137.9 1918.3L2138.4 1930.1L2138.9 1949.9L2139.4 1970.2L2139.5 1973.7L2139.9 1989.9L2140.4 2012.2L2140.9 2025.8L2141 2026.5L2141.4 2021.5L2141.9 2007.4L2142.3 1999.1L2142.9 1992.6L2143.4 1988.8L2143.8 1987.7L2143.9 1987.8L2144.4 1992.5L2144.9 2002L2145.9 2026.1L2146.9 2058.3L2147.1 2062.4L2147.4 2066.9L2147.9 2073.4L2148.4 2078.4L2148.9 2081.8L2149.4 2083.4L2150.4 2085.5L2152.4 2088L2155.4 2090.8L2156.9 2091.5L2157.9 2091.3L2159.4 2089.5L2160.9 2087.4L2161.9 2086.5L2165.9 2086.8L2170.9 2087.2L2174.9 2086.5L2175.9 2085.7L2177.9 2083.1L2178.9 2082.7L2180.9 2083.2L2182.9 2085.1L2183.4 2085.2L2183.9 2084.9L2184.9 2083.4L2186.9 2079.7L2189.4 2075.5L2189.9 2074.5L2191.4 2069.8L2191.9 2068.9L2192.4 2068.8L2193.9 2069.7L2194.4 2070.2L2194.9 2071.6L2195.9 2075.3L2196.4 2076.9L2196.9 2077.8L2198.4 2079.5L2199.8 2080.1L2200.9 2079.7L2202.4 2078.2L2202.9 2077.4L2203.4 2075.1L2204.4 2067.6L2204.9 2064.6L2205.9 2059.7L2206.4 2058L2206.9 2057.3L2208.9 2058L2209.9 2058.9L2210.9 2061.1L2212.4 2064.9L2214.4 2069L2214.9 2069.7L2215.9 2070L2219.4 2069.9L2221.4 2069.5L2221.9 2070.5L2222.4 2072.5L2223.4 2076.6L2223.9 2077.7L2225.4 2079.3L2226.4 2079.7L2226.9 2079.1L2227.4 2077.8L2228.9 2072.2L2229.6 2070L2231.4 2066.2L2231.9 2065.4L2232.7 2064.9L2232.9 2065L2233.4 2065.7L2233.9 2066.9L2235.7 2072.5L2238.4 2079L2240.9 2083.2L2242.4 2084.9L2245.4 2086.3L2247.4 2086.3L2248.9 2085.4L2250.4 2083.9L2250.9 2083.2L2251.4 2082.1L2251.9 2080.5L2252.4 2078.3L2252.9 2075.1L2253.4 2065.9L2253.9 2048.1L2254.4 2029.6L2254.9 2008.2L2255.4 1988.5L2255.9 1973.3L2256.4 1960.6L2256.7 1956.1L2257.4 1951.9L2257.9 1949.9L2258.5 1948.9L2258.9 1950.8L2259.4 1957L2259.9 1965L2260.4 1972.4L2261.4 1982.8L2261.9 1987.4L2262.4 1990.8L2262.9 1992.7L2263.4 1993.9L2264.4 1995.5L2264.9 1996.5L2265.4 1998.2L2265.6 1999.1L2265.9 2002.6L2266.4 2013.7L2266.9 2025.3L2267.4 2036.2L2267.9 2046.3L2268.1 2049.7L2268.4 2053.4L2268.9 2059.4L2269.4 2061.9L2269.9 2057.7L2270.9 2040L2271.2 2037.1L2271.9 2031.8L2272.4 2029L2272.9 2027.3L2273.4 2027L2273.9 2027.3L2274.9 2028.8L2275.2 2029.4L2275.4 2030.2L2275.9 2034.8L2276.4 2041.5L2277 2049.7L2277.4 2056.1L2277.9 2065L2278.4 2072.4L2278.8 2075.1L2279.4 2077L2279.9 2078.2L2280.4 2079L2281.3 2079.7L2281.9 2079.2L2282.4 2078.4L2283.9 2074.3L2284.9 2071.8L2286.9 2067.3L2287.9 2064.2L2288.4 2062.3L2288.9 2059.3L2289.4 2055.1L2290.4 2045.9L2290.9 2042.1L2291.9 2035.9L2292.4 2033.5L2292.9 2032.5L2293.4 2033.4L2293.9 2035.9L2294.9 2042.7L2295.4 2045.4L2296 2046.7L2296.4 2044.9L2296.9 2039.2L2297.4 2032L2297.9 2025.4L2298.4 2020.2L2298.9 2014.5L2299.4 2009.8L2299.9 2007.3L2300 2007.2L2300.4 2008.6L2300.9 2013.8L2301.4 2021.7L2301.9 2030.4L2302.4 2038.7L2302.9 2048.8L2303.4 2059.7L2303.9 2068.2L2304.1 2070L2304.4 2072.4L2304.9 2075.2L2305.4 2077.5L2306.9 2083L2307.9 2086.2L2308.9 2088.6"/>
<path class="c" clip-path="url(#cp3)" d="M147.5 3176.5L171 3175.7L181.5 3174.5L187.5 3172.9L191.2 3171L194 3168.7L196 3166.1L197.5 3163.3L198.8 3159.9L199.8 3156.3L200.5 3152.7L201.2 3148.2L201.8 3144.4L202.2 3139.9L202.8 3134.3L203 3131.1L203.2 3127.4L203.5 3123.3L203.8 3118.7L204 3113.5L204.2 3107.6L204.5 3100.8L204.8 3093L205 3084L205.2 3073.4L205.5 3061L205.8 3046.3L206 3028.7L206.2 3007.4L206.5 2981.5L206.8 2949.4L207 2909.4L207.2 2858.7L207.5 2793.8L207.8 2709.7L208 2600L208.2 2456.9L208.5 2273.6L208.8 2150L210.2 2150L210.5 2273.6L210.8 2456.9L211 2600L211.2 2709.7L211.5 2793.8L211.8 2858.7L212 2909.4L212.2 2949.4L212.5 2981.5L212.8 3007.4L213 3028.7L213.2 3046.3L213.5 3061L213.8 3073.4L214 3084L214.2 3093L214.5 3100.8L214.8 3107.6L215 3113.5L215.2 3118.7L215.5 3123.3L215.8 3127.4L216 3131.1L216.2 3134.3L216.8 3139.9L217.2 3144.4L217.8 3148.2L218.5 3152.7L219.2 3156.3L220.2 3159.9L221.5 3163.3L223 3166.1L225 3168.7L227.8 3171L231.8 3173L238 3174.5L249.2 3175.7L275.2 3176.5L396.8 3176.9L481 3177"/>
<path class="c" clip-path="url(#cp3)" d="M517 3176.9L657 3176.4L689 3175.6L702.5 3174.4L709.5 3172.9L714 3171.1L717 3168.9L719 3166.6L720.5 3164.2L722 3160.7L723 3157.5L723.5 3155.5L724 3153.1L724.5 3150.4L725 3147.1L725.5 3143.1L726 3138L726.5 3131.3L727 3122.1L727.5 3109L728 3090L728.5 3062.3L729 3022.8L729.5 2968.7L730 2898.5L730.5 2812.9L731 2717.1L731.5 2622.8L732 2550L732.5 2522L733 2549.9L733.5 2622.6L734 2716.8L734.5 2812.5L735 2898L735.5 2968.1L736 3022.1L736.5 3061.5L737 3089.1L737.5 3108L738 3120.9L738.5 3130L739 3136.6L739.5 3141.5L740 3145.4L740.5 3148.6L741 3151.2L741.5 3153.4L742.5 3156.7L743.5 3159.2L745 3161.6L746.5 3163L748 3163.7L749.5 3163.6L751 3162.8L752.5 3161.1L753.5 3159.2L754.5 3156.6L755 3154.8L755.5 3152.7L756 3150.1L756.5 3146.7L757 3142.2L757.5 3136L758 3127.2L758.5 3114.2L759 3095.3L759.5 3068.3L760 3031.3L760.5 2983.2L761 2924.6L761.5 2859.1L762 2794.5L762.5 2744.7L763 2725.5L763.5 2744.6L764 2794.4L764.5 2859L765 2924.5L765.5 2983.1L766 3031.1L766.5 3068L767 3095L767.5 3113.8L768 3126.8L768.5 3135.6L769 3141.7L769.5 3146.1L770 3149.4L770.5 3152L771 3154L771.5 3155.7L772.5 3158.1L773.5 3159.6L774.5 3160.5L776 3160.6L777 3159.9L778 3158.3L778.5 3156.9L779 3155L779.5 3152.4L780 3148.8L780.5 3143.9L781 3137.4L781.5 3129L782 3118.6L782.5 3106L783 3091.5L784 3059.8L784.5 3045.4L785 3034.9L785.5 3030.5L786 3033L786.5 3041.4L787.5 3064.7L788 3074.4L788.5 3080.8L789 3083.8L789.5 3084.5L790 3084L790.5 3083.2L791 3081.7L791.5 3078.5L792 3072.7L792.5 3064.5L793 3055L793.5 3046.1L794 3039.9L794.5 3038L795 3041.2L795.5 3049.1L796 3060.2L796.5 3073.1L797 3086.4L797.5 3099L798 3110.4L798.5 3120L799 3127.4L799.5 3132.3L800 3134.5L800.5 3133.9L801 3130.9L801.5 3126.2L802 3120.9L802.5 3116.2L803 3113L803.5 3111.5L804.5 3110.5L805 3108.5L805.5 3104.2L806 3097.3L807 3079.4L807.5 3072.6L808 3070.5L808.5 3074.2L809 3083L809.5 3094.8L810 3107.6L810.5 3119.9L811 3131L811.5 3140.2L812 3147.7L812.5 3153.5L813 3157.9L813.5 3161.1L814 3163.5L814.5 3165.3L815.5 3167.6L817 3169.7L819.5 3171.7L823.5 3173.3L830.5 3174.5L845 3175.3L871 3175.3L888.5 3174.5L897.5 3173.1L902.5 3171.5L905.5 3169.7L907.5 3167.7L908.5 3166L909 3164.8L909.5 3163.1L910 3160.7L910.5 3157.4L911 3153.1L911.5 3147.7L912.5 3135.2L913 3130.1L913.4 3128L913.5 3127.8L914 3128.7L914.5 3131.6L915 3134.9L915.5 3137.3L916 3138.2L916.5 3137.4L917 3134.7L917.5 3130.2L918 3124L918.5 3116.1L919 3106.7L919.5 3095.9L920 3083.8L920.5 3070.7L921.5 3043.4L922 3030.7L922.5 3019.9L923 3012.1L923.5 3008L924 3007.8L924.5 3010.8L925 3016L925.5 3021.7L926 3026.1L926.5 3027.7L927 3025.2L927.5 3017.3L928 3003.6L928.5 2984L929 2959.7L929.5 2932.9L930 2907.8L930.5 2890.1L931 2885.5L931.5 2896.7L932 2921.3L932.5 2953.9L933 2988.9L933.5 3022.3L934 3051.9L934.5 3076.7L935 3096.4L935.5 3111.3L936 3121.8L936.5 3128.4L937 3131.7L937.5 3132.2L938 3130.3L938.5 3127.1L939 3123.4L939.5 3120.1L940 3118L941 3115.9L941.5 3113.3L942 3107.2L942.5 3096L943 3079L943.5 3057.1L944 3033.3L944.5 3013.9L945 3006.5L945.5 3015.3L946 3036.6L946.5 3062.8L947 3088.1L947.5 3109.7L948 3126.4L948.5 3138.5L949 3146.8L949.5 3152.4L950 3156L950.5 3158.5L951 3160.3L952 3162.7L953.5 3164.6L955 3165.6L957 3165.9L959 3165.4L961 3164L962.5 3162.2L964 3159.4L965 3156.8L965.5 3155.1L966 3153.1L966.5 3150.6L967 3147.5L967.5 3143.5L968 3138.3L968.5 3131.4L969 3122.3L969.5 3110.4L970 3094.8L970.5 3075L971 3050.3L971.5 3020.5L972 2985.8L972.5 2947L973 2905.9L973.5 2865.6L974 2830.3L974.5 2805.8L975 2797L975.5 2805.9L976 2830.5L976.5 2865.7L977 2906.2L977.5 2947.4L978 2986.2L978.5 3020.9L979 3050.8L979.5 3075.5L980 3095.5L980.5 3111.1L981 3123.1L981.5 3132.3L982 3139.2L982.5 3144.5L983 3148.5L983.5 3151.7L984 3154.3L984.5 3156.4L985.5 3159.7L986.5 3162.2L988 3165L990 3167.6L992.5 3169.7L996.5 3171.7L1002.5 3173.2L1012.5 3174.3L1028 3174.5L1040 3173.7L1046.5 3172.5L1050.5 3171L1053 3169.3L1054.5 3167.7L1055.5 3166.2L1056.5 3164L1057 3162.4L1057.5 3160.4L1058 3157.8L1058.5 3154.5L1059 3150.1L1059.5 3144.6L1060 3137.9L1060.5 3129.8L1061 3120.3L1061.5 3109.8L1062.5 3087.6L1063 3077.9L1063.5 3070.9L1064 3068L1064.5 3069.6L1065 3075.3L1065.5 3083.6L1066.5 3102.4L1067 3110.7L1067.5 3117.3L1068 3121.7L1068.5 3123.7L1069 3123.6L1069.5 3121.5L1070 3118.2L1070.5 3114.3L1071 3110L1071.5 3105.2L1072 3098.8L1072.5 3089.3L1073 3074.6L1073.5 3052.7L1074 3021.7L1074.5 2980.8L1075 2930L1075.5 2871.3L1076 2808.9L1076.5 2750.7L1077 2707.9L1077.5 2692L1078 2708.2L1078.5 2751.4L1079 2810L1079.5 2872.9L1080 2932.6L1080.5 2984.9L1081 3028L1081.5 3062L1082 3087.7L1082.5 3106.5L1083 3120L1083.5 3129.6L1084 3136.6L1084.5 3141.7L1085 3145.6L1085.5 3148.6L1086 3151L1086.5 3153L1087.5 3155.9L1088.5 3157.8L1089.5 3158.9L1090.5 3159.3L1091.5 3158.8L1092 3158.2L1092.5 3157.2L1093 3155.7L1093.5 3153.5L1094 3150L1094.5 3144.8L1095 3136.9L1095.5 3125.6L1096 3110L1096.5 3089.6L1097 3064.7L1097.5 3036.8L1098 3009.3L1098.5 2988.1L1099 2980L1099.5 2988.4L1100 3009.9L1100.5 3037.8L1101 3066.1L1101.5 3091.4L1102 3112.1L1102.5 3128.1L1103 3139.8L1103.5 3148.1L1104 3153.7L1104.5 3157.7L1105 3160.4L1105.5 3162.5L1106 3164L1107 3166.3L1108.5 3168.5L1110.5 3170.4L1113.5 3171.9L1118.5 3173.2L1127 3173.9L1130 3173.7L1131.5 3173L1133.5 3171.2L1134 3171L1135 3171.6L1137 3173.4L1139 3174L1147.5 3173.8L1151.5 3173.2L1153 3172.4L1154.5 3170.6L1155.5 3169.3L1156 3169L1156.5 3169.1L1158.5 3170.9L1159.5 3171.3L1160.5 3170.9L1161.5 3169.9L1162.5 3168L1163.5 3164.9L1165 3159L1165.5 3157.6L1166 3157L1166.5 3157.4L1167 3158.6L1168.5 3163.8L1169.5 3166.4L1170.5 3167.9L1171.5 3168.5L1173 3168.4L1175.5 3167.1L1177.5 3165.2L1179 3163.2L1180.5 3160.1L1181.5 3157.1L1182 3155.1L1182.5 3152.5L1183 3148.9L1183.5 3143.8L1184 3136.5L1184.5 3126.3L1185 3112.4L1185.5 3094.8L1186 3074.1L1186.5 3052.5L1187 3034.4L1187.5 3025.5L1188 3028.5L1188.5 3040.4L1189 3055.2L1189.5 3068.2L1190 3076.5L1190.5 3078.6L1191 3073.2L1191.5 3059.4L1192 3035.6L1192.5 3000.4L1193 2952.2L1193.5 2889.8L1194 2813.7L1194.5 2726.5L1195 2634.4L1195.5 2548.5L1196 2485.4L1196.5 2462L1197 2485.9L1197.5 2549.6L1198 2636.1L1198.5 2728.9L1199 2816.9L1199.5 2894L1200 2957.7L1200.5 3007.8L1201 3045.7L1201.5 3073.4L1202 3093.4L1202.5 3107.7L1203 3118.1L1203.5 3125.7L1204 3131.6L1204.5 3136.1L1205 3139.9L1205.5 3143L1206 3145.6L1206.5 3147.8L1207.5 3151.3L1208.5 3154L1210 3156.7L1211.5 3158.3L1213 3159L1214 3158.7L1215 3157.5L1215.5 3156.3L1216 3154.9L1216.5 3153L1218 3146.4L1218.5 3144.8L1219 3144L1219.5 3144.3L1220 3145.6L1221.5 3150.8L1222 3152.1L1222.5 3153.1L1223 3153.7L1223.5 3153.9L1224.5 3153.5L1225.5 3152.1L1226.5 3150L1227.5 3147.3L1228.5 3143.7L1229.5 3139.1L1230 3136.3L1230.5 3133.1L1231 3129.4L1231.5 3125L1232 3119.8L1232.5 3113.5L1233 3105.7L1233.5 3095.6L1234 3082.6L1234.5 3065.4L1235 3042.8L1235.5 3012.9L1236 2974.1L1236.5 2924.7L1237 2863.3L1237.5 2789.2L1238 2702.8L1238.5 2606.4L1239 2504.1L1239.5 2403.7L1240 2316L1240.5 2255L1241 2233L1241.5 2255L1242 2316L1242.5 2403.5L1243 2504L1243.5 2606.1L1244 2702.6L1244.5 2788.8L1245 2862.9L1245.5 2924.3L1246 2973.7L1246.5 3012.4L1247 3042.2L1247.5 3064.9L1248 3082L1248.5 3095L1249 3104.9L1249.5 3112.8L1250 3119L1250.5 3124.2L1251 3128.5L1251.5 3132.2L1252 3135.3L1252.5 3138.1L1253.5 3142.6L1254.5 3146.2L1255.5 3149L1257 3152.1L1258.5 3154.3L1260.5 3156.1L1262.5 3156.9L1264.5 3156.8L1266.5 3155.9L1268.5 3153.9L1270 3151.6L1271.5 3148.2L1272.5 3145.2L1273.5 3141.4L1274 3139.1L1274.5 3136.5L1275 3133.5L1275.5 3130L1276 3125.9L1276.5 3121.2L1277 3115.4L1277.5 3108.3L1278 3099.2L1278.5 3087.3L1279 3071.4L1279.5 3049.8L1280 3020.4L1280.5 2980.9L1281 2929.2L1281.5 2863.4L1282 2783L1282.5 2689.3L1283 2586.3L1283.5 2482L1284 2389.1L1284.5 2323.3L1284.8 2302L1285 2295.8L1285.5 2304.4L1286 2332.8L1286.5 2360.4L1287 2371.2L1287.5 2359.8L1288 2333L1288.5 2312.5L1289 2329L1289.5 2399.3L1290 2509.3L1290.5 2630.1L1291 2739.2L1291.5 2825.8L1292 2886.9L1292.5 2924.6L1293 2943.9L1293.5 2950.2L1294 2948L1294.5 2940L1295 2927.2L1295.5 2908.9L1296 2884.9L1296.5 2855.5L1297 2823.1L1297.5 2792.8L1298 2771.3L1298.5 2765.5L1299 2778.5L1299.5 2808.1L1300 2848.3L1300.5 2892.8L1301 2936.5L1301.5 2976.2L1302 3010.2L1302.5 3037.6L1303 3058.2L1303.5 3072.5L1304 3080.9L1304.5 3084.1L1305 3082.9L1305.5 3078.5L1306.5 3065.4L1307 3060.8L1307.5 3060.5L1308 3065.6L1308.5 3075.3L1309 3087.6L1309.5 3100.4L1310 3112.5L1310.5 3123.1L1311 3131.9L1311.5 3139L1312 3144.5L1312.5 3148.8L1313 3151.9L1313.5 3154.4L1314 3156.3L1315 3159.1L1316.5 3161.9L1318.5 3164.3L1320.5 3165.9L1327 3169L1331.5 3169.7L1335.5 3169.3L1338 3168.3L1339.5 3166.9L1340.5 3165.1L1341 3163.7L1341.5 3161.7L1342 3159L1342.5 3155.3L1343 3150.4L1343.5 3144.2L1344 3136.7L1344.5 3128.2L1345 3119.1L1345.5 3110.7L1346 3104.4L1346.5 3102L1347 3104.1L1347.5 3110L1348 3118.1L1348.5 3126.8L1349 3135L1349.5 3142.1L1350 3147.8L1350.5 3152.3L1351 3155.5L1351.5 3157.7L1352 3159.1L1352.5 3159.9L1353 3160.2L1354 3159.8L1355 3158.4L1356 3156L1356.5 3154.3L1357 3152.2L1357.5 3149.6L1358 3146.2L1358.5 3141.7L1359 3135.4L1359.5 3126.4L1360 3113.2L1360.5 3093.9L1361 3066.4L1361.5 3028.8L1362 2979.7L1362.5 2920L1363 2853.2L1363.5 2787.4L1364 2736.6L1364.5 2717L1365 2736.5L1365.5 2787.2L1366 2852.9L1366.5 2919.6L1367 2979.2L1367.5 3028L1368 3065.6L1368.5 3092.8L1369 3111.9L1369.5 3124.8L1370 3133.5L1370.5 3139.4L1371 3143.4L1371.5 3146.2L1372 3148L1372.5 3149L1373 3149L1373.5 3147.8L1374 3144.9L1374.5 3139.7L1375 3131.4L1375.5 3119.3L1376 3103.4L1376.5 3084.4L1377 3064.8L1377.5 3049L1378 3043L1378.5 3049.9L1379 3066.7L1379.5 3087.4L1380 3107.5L1380.5 3124.5L1381 3137.8L1381.5 3147.4L1382 3154.1L1382.5 3158.6L1383 3161.6L1383.5 3163.7L1384 3165.2L1385 3167.3L1386.5 3169.3L1389 3171.2L1393 3172.8L1400 3173.9L1411 3174.3L1418.5 3173.8L1422.5 3172.7L1425 3171.4L1426.5 3169.9L1427.5 3168.4L1428 3167.4L1428.5 3166.1L1429 3164.2L1429.5 3161.7L1430 3158.2L1430.5 3153.4L1431 3146.7L1431.5 3138L1432 3126.9L1432.5 3113.4L1433 3098.1L1433.5 3081.9L1434 3066.8L1434.5 3055.7L1435 3051.5L1435.5 3055.6L1436 3066.6L1436.5 3081.6L1437 3097.8L1437.5 3113.1L1438 3126.4L1438.5 3137.5L1439 3146.1L1439.5 3152.6L1440 3157.4L1440.5 3160.8L1441 3163.1L1441.5 3164.8L1442 3166L1443 3167.4L1444.5 3168.3L1446 3168L1447 3166.8L1447.5 3165.8L1448 3164.1L1448.5 3161.7L1449 3158L1449.5 3152.7L1450 3145.3L1450.5 3135.7L1451 3124L1452 3097.9L1452.5 3087.8L1453 3084L1453.5 3087.9L1454 3097.9L1455 3124L1455.5 3135.8L1456 3145.3L1456.5 3152.6L1457 3157.8L1457.5 3161.1L1458 3163.1L1458.5 3163.8L1459 3163.5L1459.5 3162.2L1460 3160L1461 3154.2L1461.5 3151.8L1462 3151L1462.5 3152.4L1463 3155.5L1464 3162.8L1464.5 3165.8L1465 3168.2L1465.5 3170L1466 3171.2L1467 3172.6L1469 3173.8L1473.5 3174.8L1485 3175.3L1499.5 3174.9L1506 3174L1509.5 3172.6L1511 3171.4L1512 3169.9L1512.5 3168.9L1513 3167.5L1513.5 3165.7L1514 3163.3L1514.5 3160.3L1515 3156.5L1515.5 3152L1516 3146.7L1516.5 3140.8L1517.5 3128.5L1518 3123.1L1518.5 3119.4L1519 3118L1519.5 3119.3L1520 3122.9L1520.5 3128.2L1521.5 3140.3L1522 3146.1L1522.5 3151.3L1523 3155.7L1523.5 3159.3L1524 3162.2L1524.5 3164.5L1525 3166.1L1525.5 3167.4L1526.5 3168.9L1528 3169.7L1529.5 3169.5L1530.5 3168.7L1531.5 3166.9L1532 3165.5L1532.5 3163.6L1533 3161.3L1533.5 3158.2L1534 3154.6L1534.5 3150.3L1535.5 3140.5L1536 3135.5L1536.5 3131.2L1537 3128.1L1537.5 3127L1538 3128.1L1538.5 3131L1539 3135.3L1540 3145.3L1540.5 3150L1541 3154.1L1541.5 3157.7L1542 3160.6L1542.5 3163L1543 3164.7L1543.5 3166L1544 3167L1545 3168L1546.5 3168.1L1547.5 3167.6L1548.5 3166.3L1549 3165.3L1549.5 3163.8L1550 3161.6L1550.5 3158.1L1551 3152.9L1551.5 3145.2L1552 3134.7L1552.5 3121L1553 3104.9L1553.5 3088.3L1554 3074.8L1554.5 3069.5L1555 3074.7L1555.5 3087.9L1556 3104.4L1556.5 3120.4L1557 3133.9L1557.5 3144.3L1558 3151.8L1558.5 3156.9L1559 3160.2L1559.5 3162.3L1560 3163.6L1561 3165L1562.5 3165.7L1564 3165.5L1566 3164.2L1567.5 3162.4L1569 3159.7L1570 3157.2L1571 3153.9L1571.5 3151.8L1572 3149.2L1572.5 3146L1573 3142.1L1573.5 3137.1L1574 3130.8L1574.5 3122.8L1575 3112.6L1575.5 3099.8L1576 3084L1576.5 3064.8L1577 3041.9L1577.5 3015.1L1578 2984.8L1578.5 2951.4L1579.5 2880.5L1580 2847.1L1580.5 2819.3L1581 2800.6L1581.5 2794L1582 2800.6L1582.5 2819.2L1583 2847L1583.5 2880.3L1584.5 2951.2L1585 2984.5L1585.5 3014.8L1586 3041.4L1586.5 3064.3L1587 3083.5L1587.5 3099.2L1588 3111.9L1588.5 3121.9L1589 3129.8L1589.5 3136L1590 3140.8L1590.5 3144.6L1591 3147.5L1591.5 3149.8L1592 3151.6L1592.5 3153L1593 3154.1L1593.5 3154.7L1594 3154.9L1594.5 3154.5L1595 3153.4L1595.5 3151.1L1596 3147.3L1596.5 3141.8L1597 3134.3L1597.5 3125.3L1598 3115.7L1598.5 3107.5L1599 3103L1599.5 3103.4L1600.5 3110.6L1601 3112.2L1601.5 3111L1602.5 3104.8L1603 3105L1603.5 3110.2L1604 3119.3L1604.5 3129.7L1605 3139.6L1605.5 3148L1606 3154.6L1606.5 3159.3L1607 3162.7L1607.5 3165L1608 3166.6L1609 3168.7L1610.5 3170.4L1613 3172.1L1617.5 3173.6L1626 3174.8L1643 3175.6L1652.5 3175.4L1655.5 3175L1660 3175.5L1668 3174.8L1671.5 3173.7L1673 3172.6L1674 3170.9L1674.5 3169.5L1675 3167.5L1675.5 3164.8L1676 3161.4L1677 3153.1L1677.5 3149.6L1678 3148L1678.5 3148.8L1679 3151.5L1680 3158L1680.5 3160.4L1681 3161.9L1681.5 3162.3L1682 3161.6L1682.5 3159.7L1683 3156.2L1683.5 3150.7L1684 3142.5L1684.5 3131.3L1685 3116.5L1685.5 3098.4L1686 3078.2L1686.5 3058.3L1687 3042.9L1687.5 3037L1688 3043L1688.5 3058.5L1689 3078.6L1689.5 3098.9L1690 3117.1L1690.5 3132.1L1691 3143.6L1691.5 3152L1692 3157.9L1692.5 3162L1693 3164.7L1693.5 3166.7L1694 3168.1L1695 3170.1L1696.5 3171.9L1699 3173.5L1703 3174.7L1711 3175.5L1723.5 3175.5L1729.5 3174.7L1732.5 3173.5L1734 3172.2L1734.5 3171.4L1735 3170.3L1735.5 3168.7L1736 3166.3L1736.5 3163L1737 3158.4L1737.5 3152.4L1738 3145.2L1739 3129.1L1739.5 3122.9L1740 3120.5L1740.5 3122.8L1741 3129L1742 3145L1742.5 3152.2L1743 3158.1L1743.5 3162.7L1744 3166L1744.5 3168.3L1745 3169.8L1745.5 3170.9L1746.5 3172.1L1748.5 3173.2L1751.5 3173.5L1755 3172.7L1757 3171.6L1758.5 3170.1L1759.5 3168.4L1760 3167.1L1760.5 3165.4L1761 3163.2L1761.5 3160.2L1762 3156.4L1762.5 3151.5L1763 3145.4L1763.5 3138.1L1764 3129.5L1764.5 3120L1765.5 3099.9L1766 3091.2L1766.5 3085.2L1767 3083L1767.5 3085.2L1768 3091.2L1768.5 3099.8L1769.5 3119.8L1770 3129.3L1770.5 3137.8L1771 3145L1771.5 3151L1772 3155.8L1772.5 3159.5L1773 3162.2L1773.5 3164.1L1774 3165.3L1774.5 3165.8L1775 3165.7L1775.5 3165L1776 3163.7L1777 3160L1777.5 3158.4L1778 3158L1778.5 3159L1779 3161.1L1780 3166.1L1780.5 3168.2L1781 3169.8L1781.5 3171L1782.5 3172.4L1784 3173.1L1785.5 3172.7L1786 3172.3L1786.5 3171.5L1787 3170.3L1787.5 3168.6L1788 3166.4L1789 3161L1789.5 3158.8L1790 3158L1790.5 3158.9L1791 3161.2L1792 3166.8L1792.5 3169.2L1793 3171L1793.5 3172.3L1794.5 3173.8L1796 3174.8L1800.5 3175.5L1816 3175.9L1826 3175.5L1828.5 3174.7L1830.5 3173L1832.5 3171.1L1833.5 3171.1L1835.5 3172.9L1837.5 3174.5L1840 3175.3L1849.5 3175.4L1860.5 3174.5L1866 3173.2L1868.5 3172L1870 3170.6L1871 3168.8L1871.5 3167.6L1872 3165.9L1872.5 3163.7L1873 3161L1873.5 3157.6L1874 3153.6L1874.5 3148.8L1875 3143.6L1876 3132.5L1876.5 3127.7L1877 3124.3L1877.5 3123L1878 3124.1L1878.5 3127.3L1879 3131.9L1880 3142.7L1880.5 3147.8L1881 3152.3L1881.5 3156.2L1882 3159.4L1882.5 3161.9L1883 3163.8L1883.5 3165.3L1884 3166.3L1885 3167.4L1886 3167.6L1887 3167.1L1888 3165.9L1889.5 3163.1L1890.5 3161.1L1891 3160.4L1891.5 3160L1892 3160L1893 3160.8L1894.5 3162.5L1895.5 3163L1896.5 3162.9L1898 3161.7L1899.5 3159.3L1900.5 3157L1901.5 3154L1902.5 3150.1L1903 3147.8L1903.5 3145.1L1904 3141.9L1904.5 3138.2L1905 3133.8L1905.5 3128.4L1906 3121.6L1906.5 3112.7L1907 3100.7L1907.5 3084.2L1908 3061.2L1908.5 3029.3L1909 2985.8L1909.5 2928.4L1910 2855.4L1910.5 2767.1L1911 2666.3L1911.5 2560L1912 2460.9L1912.5 2388L1913 2360.5L1913.5 2387.2L1914 2459.3L1914.5 2557.5L1915 2663L1915.5 2762.9L1916 2850.2L1916.5 2922L1917 2978.3L1917.5 3020.4L1918 3050.8L1918.5 3072L1919 3086.5L1919.5 3095.9L1920 3101.8L1920.5 3104.8L1921 3105.1L1921.5 3102.4L1922 3095.6L1922.5 3082.8L1923 3061.7L1923.5 3029.2L1924 2983.2L1924.5 2923.1L1925 2851.6L1925.5 2777.7L1926 2718.4L1926.5 2695.5L1927 2720.4L1927.5 2781.9L1928 2857.9L1928.5 2931.6L1929 2994.1L1929.5 3042.7L1930 3077.9L1930.5 3102.2L1931 3118.3L1931.5 3129.1L1932 3136.5L1932.5 3141.7L1933 3145.6L1933.5 3148.6L1934 3151L1934.5 3152.9L1935 3154.3L1935.5 3155.3L1936 3155.9L1936.5 3156.1L1937 3155.8L1937.5 3155.1L1938 3154L1938.5 3152.4L1939.5 3148.4L1940.5 3144.4L1941 3143.2L1941.5 3143L1942 3144L1942.5 3146L1943 3148.7L1944.5 3157.6L1945 3160.1L1945.5 3162.3L1946 3164.2L1946.5 3165.7L1947.5 3167.9L1949 3169.8L1951.5 3171.2L1956 3172.4L1962.5 3172.8L1967.5 3172.1L1971 3170.8L1973 3169.3L1974.5 3167.5L1975.5 3165.7L1976 3164.4L1976.5 3162.9L1977 3160.9L1977.5 3158.3L1978 3154.7L1978.5 3149.9L1979 3143.5L1979.5 3135.1L1980 3124.2L1980.5 3110.7L1981 3094.4L1981.5 3075.7L1982.5 3035L1983 3016.7L1983.5 3003.7L1984 2999L1984.5 3003.7L1985 3016.7L1985.5 3035L1986.5 3075.9L1987 3094.6L1987.5 3110.8L1988 3124.4L1988.5 3135.3L1989 3143.8L1989.5 3150.2L1990 3155L1990.5 3158.6L1991 3161.2L1991.5 3163.3L1992 3164.8L1993 3167.1L1994.5 3169.3L1996.5 3171.1L1999.5 3172.7L2004.5 3174L2014 3174.8L2029.5 3174.9L2039 3174.1L2042.5 3173.1L2044 3172.2L2045 3170.9L2045.5 3169.8L2046 3168.1L2046.5 3165.6L2047 3162.2L2047.5 3157.9L2048.5 3147.5L2049 3143.2L2049.5 3141.5L2050 3143.1L2050.5 3147.2L2051.5 3157.3L2052 3161.5L2052.5 3164.7L2053 3167.1L2053.5 3168.6L2054 3169.6L2055 3170.6L2057 3171L2060.5 3170.4L2064 3168.7L2067 3166.2L2069 3163.8L2070.5 3161.2L2072 3157.9L2073 3154.9L2074 3151.2L2075 3146.5L2075.5 3143.7L2076 3140.4L2076.5 3136.6L2077 3132.3L2077.5 3127.2L2078 3121.2L2078.5 3114L2079 3105.5L2079.5 3095.3L2080 3082.9L2080.5 3067.6L2081 3048.9L2081.5 3025.6L2082 2996.7L2082.5 2960.8L2083 2917L2083.5 2865.3L2084 2808.2L2084.5 2752.6L2085 2710.5L2085.5 2694.5L2086 2710.5L2086.5 2752.6L2087 2808.2L2087.5 2865.3L2088 2917L2088.5 2960.8L2089 2996.7L2089.5 3025.6L2090 3048.9L2090.5 3067.7L2091 3082.9L2091.5 3095.3L2092 3105.5L2092.5 3114L2093 3121.2L2093.5 3127.2L2094 3132.3L2094.5 3136.7L2095 3140.4L2095.5 3143.7L2096 3146.5L2097 3151.3L2098 3154.9L2099 3157.9L2100.5 3161.3L2102.5 3164.5L2105 3167.3L2108 3169.4L2112.5 3171.4L2118.5 3172.7L2125 3172.9L2129.5 3172.2L2132 3171.1L2134 3169.4L2135 3167.8L2135.5 3166.7L2136 3165.3L2136.5 3163.4L2137 3160.9L2137.5 3157.6L2138 3153.2L2138.5 3147.7L2139 3140.9L2139.5 3132.6L2140 3123L2140.5 3112.2L2141.5 3089.5L2142 3079.8L2142.5 3072.9L2143 3070.5L2143.5 3073L2144 3079.8L2144.5 3089.6L2145.5 3112.4L2146 3123.2L2146.5 3132.9L2147 3141.2L2147.5 3148.1L2148 3153.6L2148.5 3158L2149 3161.3L2149.5 3163.9L2150 3165.8L2150.5 3167.3L2151.5 3169.3L2153 3171.1L2155.5 3172.8L2159.5 3174.2L2167 3175.2L2181.5 3175.7L2189.5 3175.2L2192.5 3174.4L2194 3173.4L2195 3172L2195.5 3170.9L2196 3169.3L2196.5 3167.3L2197 3164.7L2197.5 3161.5L2199 3150.6L2199.5 3148L2200 3147L2200.5 3147.9L2201 3150.5L2202.5 3161.3L2203 3164.4L2203.5 3166.9L2204 3168.9L2204.5 3170.4L2205 3171.4L2206 3172.6L2207 3172.9L2208 3172.6L2209 3171.7L2210 3170L2211 3167.4L2213 3160.9L2213.5 3159.8L2214 3159.5L2214.5 3159.9L2215 3161L2216 3164.3L2217 3167.8L2218 3170.6L2219 3172.6L2220.5 3174.2L2223 3175.1L2230 3175.7L2242 3175.3L2249 3174.3L2253 3173L2255.5 3171.3L2257 3169.8L2258.5 3167.3L2259 3166.1L2259.5 3164.6L2260 3162.6L2260.5 3160.1L2261 3156.7L2261.5 3152L2262 3145.8L2262.5 3137.7L2263 3127.2L2263.5 3114.1L2264 3098.5L2264.5 3080.5L2265.5 3041.2L2266 3023.6L2266.5 3011.1L2267 3006.5L2267.5 3011L2268 3023.5L2268.5 3041.1L2269.5 3080.3L2270 3098.2L2270.5 3113.8L2271 3126.8L2271.5 3137.2L2272 3145.1L2272.5 3151L2273 3155.3L2273.5 3158.2L2274 3160L2274.5 3161.1L2276 3163L2277 3165.4L2278 3168.2L2279 3170.2L2280.5 3172L2283 3173.3L2287 3174.1L2291 3174L2293.5 3173.2L2295 3172.2L2296 3171L2296.5 3170L2297 3168.6L2297.5 3166.6L2298 3163.5L2298.5 3159.2L2299 3153.2L2299.5 3145.5L2300 3136.1L2301 3115.1L2301.5 3107.1L2302 3104L2302.5 3107.1L2303 3115.2L2304 3136.2L2304.5 3145.7L2305 3153.5L2305.5 3159.4L2306 3163.8L2306.5 3166.9L2307 3169L2307.5 3170.5L2308.5 3172.2L2310 3173.6L2313 3175L2314 3175.2"/>
<text transform="translate(288.4 183.6) scale(1 1.02)" font-size="79.2">Exp.</text>
<text transform="translate(289.2 268.5) scale(1 1.02)" font-size="66.4">Ar matrix</text>
<text transform="translate(295.5 1247.7) scale(1 1.02)" font-size="79.2">Exp.</text>
<text transform="translate(295.8 1333.2) scale(1 1.02)" font-size="66.4">N<tspan dy="24.8" font-size="40">2</tspan><tspan dy="-24.8"> matrix</tspan></text>
<text transform="translate(295 2327) scale(1 1.02)" font-size="79.2">Calc.</text>
<text transform="translate(295.4 2412) scale(1 1.02)" font-size="66.4">(0.89 I + 0.06 II + 0.05 III)</text>
<text transform="translate(69 701.7) rotate(-90) scale(1 1.02)" font-size="62">Absorbance</text>
<text transform="translate(71.9 1784.2) rotate(-90) scale(1 1.02)" font-size="67.1">Absorbance</text>
<text transform="translate(69 2869) rotate(-90) scale(1 1.02)" font-size="66.67">IR Intensity</text>
<text transform="translate(290.5 3299) scale(1 1.05)" font-size="65.8" text-anchor="middle">3400</text>
<text transform="translate(518.2 3299) scale(1 1.05)" font-size="65.8" text-anchor="middle">1800</text>
<text transform="translate(784.5 3299) scale(1 1.05)" font-size="65.8" text-anchor="middle">1600</text>
<text transform="translate(1050.8 3299) scale(1 1.05)" font-size="65.8" text-anchor="middle">1400</text>
<text transform="translate(1317.1 3299) scale(1 1.05)" font-size="65.8" text-anchor="middle">1200</text>
<text transform="translate(1583.4 3299) scale(1 1.05)" font-size="65.8" text-anchor="middle">1000</text>
<text transform="translate(1849.7 3299) scale(1 1.05)" font-size="65.8" text-anchor="middle">800</text>
<text transform="translate(2116 3299) scale(1 1.05)" font-size="65.8" text-anchor="middle">600</text>
<text transform="translate(953.3 3420) scale(1 1.02)" font-size="66.3">Wavenumber/ cm<tspan dy="-36" font-size="40">-1</tspan></text>
</svg>
</body></html>
